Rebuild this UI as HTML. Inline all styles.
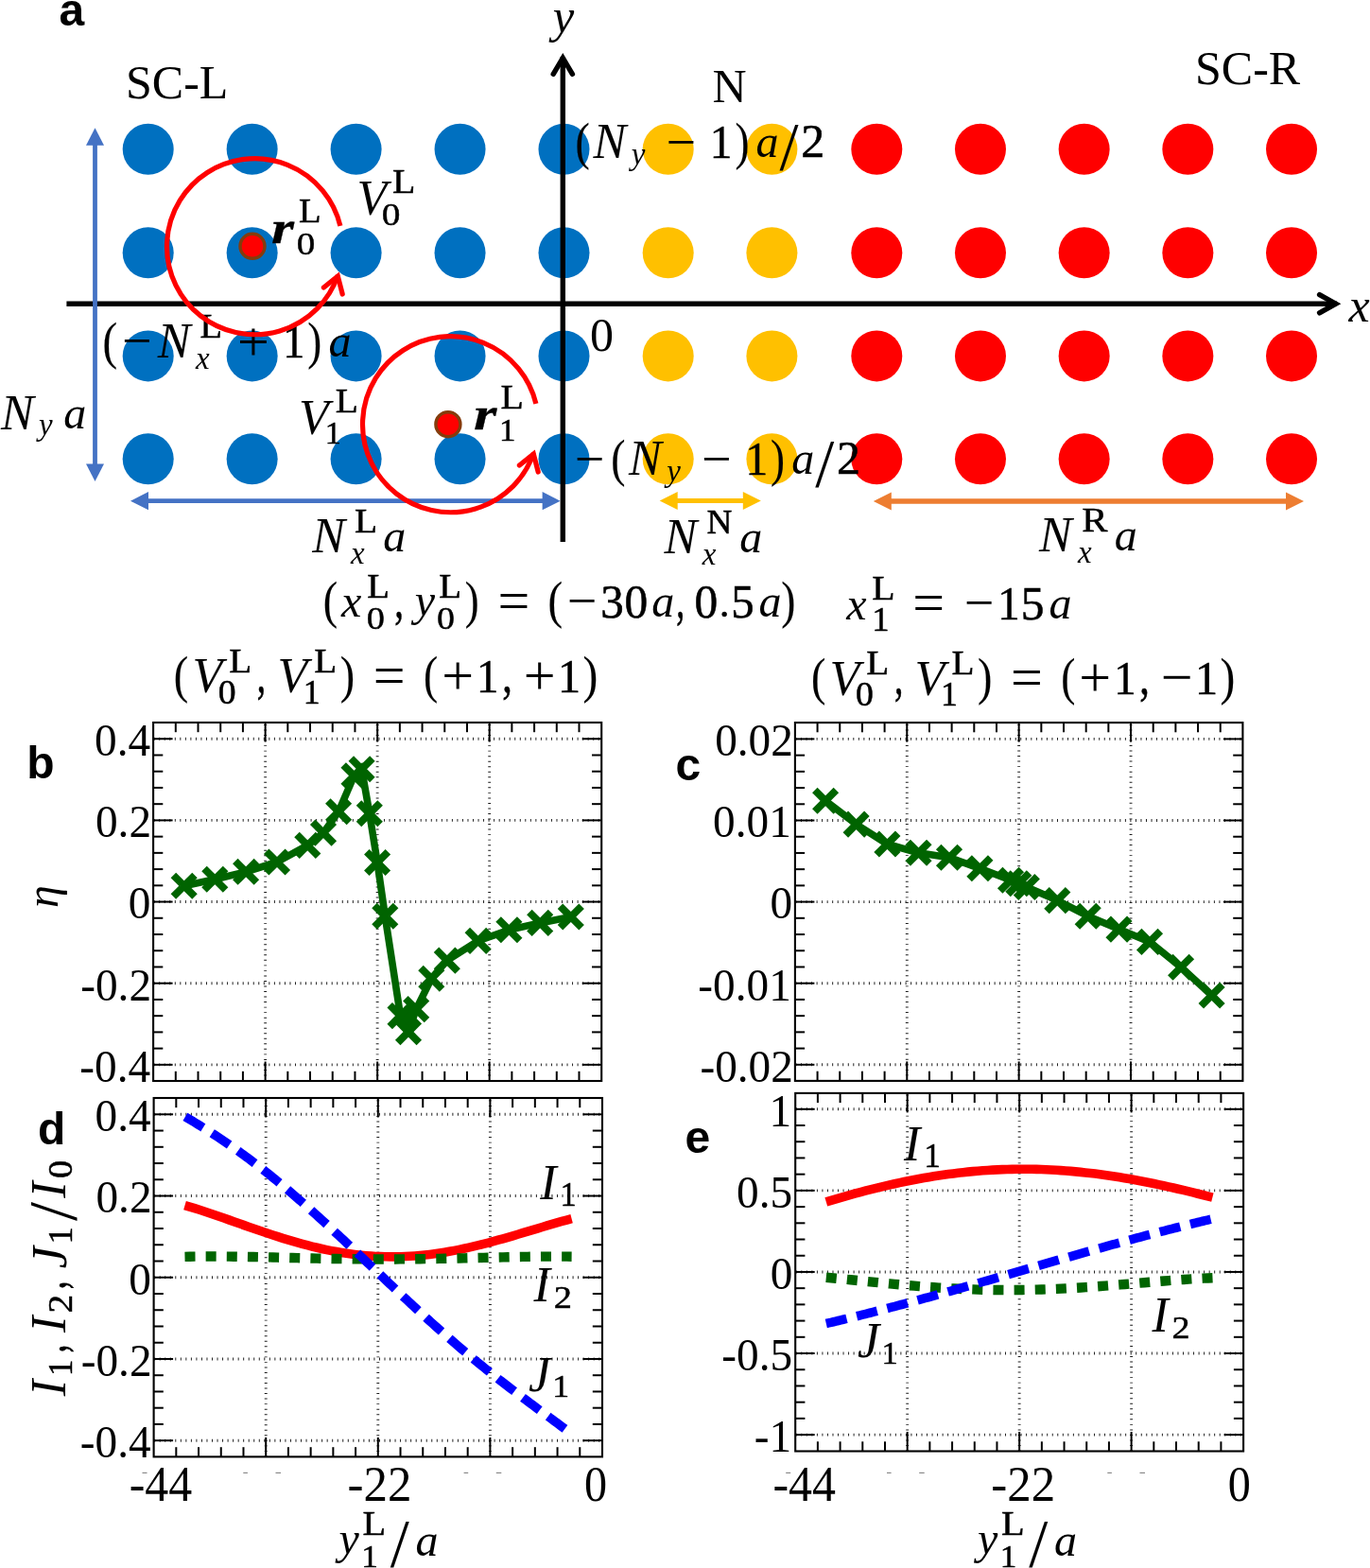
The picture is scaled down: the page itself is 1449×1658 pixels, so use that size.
<!DOCTYPE html>
<html><head><meta charset="utf-8"><title>figure</title>
<style>html,body{margin:0;padding:0;background:#fff;}svg{display:block;will-change:transform;}</style>
</head><body>
<svg width="1449" height="1658" viewBox="0 0 1449 1658" font-family="Liberation Serif, serif" fill="#000">
<rect width="1449" height="1658" fill="#fff"/>
<g id="circles">
<circle cx="156.70" cy="157.80" r="27.0" fill="#0070C0"/>
<circle cx="266.65" cy="157.80" r="27.0" fill="#0070C0"/>
<circle cx="376.60" cy="157.80" r="27.0" fill="#0070C0"/>
<circle cx="486.55" cy="157.80" r="27.0" fill="#0070C0"/>
<circle cx="596.50" cy="157.80" r="27.0" fill="#0070C0"/>
<circle cx="706.70" cy="157.80" r="27.0" fill="#FFC000"/>
<circle cx="816.40" cy="157.80" r="27.0" fill="#FFC000"/>
<circle cx="927.30" cy="157.80" r="27.0" fill="#FF0000"/>
<circle cx="1036.98" cy="157.80" r="27.0" fill="#FF0000"/>
<circle cx="1146.66" cy="157.80" r="27.0" fill="#FF0000"/>
<circle cx="1256.34" cy="157.80" r="27.0" fill="#FF0000"/>
<circle cx="1366.02" cy="157.80" r="27.0" fill="#FF0000"/>
<circle cx="156.70" cy="267.30" r="27.0" fill="#0070C0"/>
<circle cx="266.65" cy="267.30" r="27.0" fill="#0070C0"/>
<circle cx="376.60" cy="267.30" r="27.0" fill="#0070C0"/>
<circle cx="486.55" cy="267.30" r="27.0" fill="#0070C0"/>
<circle cx="596.50" cy="267.30" r="27.0" fill="#0070C0"/>
<circle cx="706.70" cy="267.30" r="27.0" fill="#FFC000"/>
<circle cx="816.40" cy="267.30" r="27.0" fill="#FFC000"/>
<circle cx="927.30" cy="267.30" r="27.0" fill="#FF0000"/>
<circle cx="1036.98" cy="267.30" r="27.0" fill="#FF0000"/>
<circle cx="1146.66" cy="267.30" r="27.0" fill="#FF0000"/>
<circle cx="1256.34" cy="267.30" r="27.0" fill="#FF0000"/>
<circle cx="1366.02" cy="267.30" r="27.0" fill="#FF0000"/>
<circle cx="156.70" cy="376.40" r="27.0" fill="#0070C0"/>
<circle cx="266.65" cy="376.40" r="27.0" fill="#0070C0"/>
<circle cx="376.60" cy="376.40" r="27.0" fill="#0070C0"/>
<circle cx="486.55" cy="376.40" r="27.0" fill="#0070C0"/>
<circle cx="596.50" cy="376.40" r="27.0" fill="#0070C0"/>
<circle cx="706.70" cy="376.40" r="27.0" fill="#FFC000"/>
<circle cx="816.40" cy="376.40" r="27.0" fill="#FFC000"/>
<circle cx="927.30" cy="376.40" r="27.0" fill="#FF0000"/>
<circle cx="1036.98" cy="376.40" r="27.0" fill="#FF0000"/>
<circle cx="1146.66" cy="376.40" r="27.0" fill="#FF0000"/>
<circle cx="1256.34" cy="376.40" r="27.0" fill="#FF0000"/>
<circle cx="1366.02" cy="376.40" r="27.0" fill="#FF0000"/>
<circle cx="156.70" cy="485.30" r="27.0" fill="#0070C0"/>
<circle cx="266.65" cy="485.30" r="27.0" fill="#0070C0"/>
<circle cx="376.60" cy="485.30" r="27.0" fill="#0070C0"/>
<circle cx="486.55" cy="485.30" r="27.0" fill="#0070C0"/>
<circle cx="596.50" cy="485.30" r="27.0" fill="#0070C0"/>
<circle cx="706.70" cy="485.30" r="27.0" fill="#FFC000"/>
<circle cx="816.40" cy="485.30" r="27.0" fill="#FFC000"/>
<circle cx="927.30" cy="485.30" r="27.0" fill="#FF0000"/>
<circle cx="1036.98" cy="485.30" r="27.0" fill="#FF0000"/>
<circle cx="1146.66" cy="485.30" r="27.0" fill="#FF0000"/>
<circle cx="1256.34" cy="485.30" r="27.0" fill="#FF0000"/>
<circle cx="1366.02" cy="485.30" r="27.0" fill="#FF0000"/>
</g>
<line x1="70.40" y1="321.20" x2="1414.00" y2="321.20" stroke="#000" stroke-width="5.4" stroke-linecap="butt" />
<polyline points="1395.6,311.6 1412.8,321.2 1395.6,330.8" fill="none" stroke="#000" stroke-width="5.4" stroke-linecap="round" stroke-linejoin="miter"/>
<line x1="595.30" y1="573.00" x2="595.30" y2="60.00" stroke="#000" stroke-width="5.4" stroke-linecap="butt" />
<polyline points="585.2,78.3 595.3,61.2 605.4,78.3" fill="none" stroke="#000" stroke-width="5.4" stroke-linecap="round" stroke-linejoin="miter"/>
<line x1="100.50" y1="152.80" x2="100.50" y2="491.50" stroke="#4472C4" stroke-width="4.8" stroke-linecap="butt" /><polygon points="100.50,135.20 91.00,153.80 110.00,153.80" fill="#4472C4"/><polygon points="100.50,509.10 91.00,490.50 110.00,490.50" fill="#4472C4"/>
<line x1="156.00" y1="529.70" x2="574.60" y2="529.70" stroke="#4472C4" stroke-width="4.8" stroke-linecap="butt" /><polygon points="138.00,529.70 157.00,520.10 157.00,539.30" fill="#4472C4"/><polygon points="592.60,529.70 573.60,520.10 573.60,539.30" fill="#4472C4"/>
<line x1="715.70" y1="529.50" x2="786.80" y2="529.50" stroke="#FFC000" stroke-width="5.2" stroke-linecap="butt" /><polygon points="697.70,529.50 716.70,519.90 716.70,539.10" fill="#FFC000"/><polygon points="804.80,529.50 785.80,519.90 785.80,539.10" fill="#FFC000"/>
<line x1="941.80" y1="530.00" x2="1361.00" y2="530.00" stroke="#ED7D31" stroke-width="5.3" stroke-linecap="butt" /><polygon points="923.80,530.00 942.80,520.40 942.80,539.60" fill="#ED7D31"/><polygon points="1379.00,530.00 1360.00,520.40 1360.00,539.60" fill="#ED7D31"/>
<g id="ta" fill="#000">
<text x="133.0" y="103.5" font-size="50">SC-L</text>
<text x="1264.0" y="89.3" font-size="50">SC-R</text>
<text x="753.5" y="108.0" font-size="50">N</text>
<text x="624.0" y="370.6" font-size="50">0</text>
<text transform="matrix(0.5058 0 0 0.4964 584.72 33.79)" font-family="Liberation Serif" font-style="italic" font-weight="normal" font-size="100" stroke="#000" stroke-width="0" vector-effect="non-scaling-stroke">y</text>
<text x="1426.5" y="339.6" font-size="50" font-style="italic">x</text>
<text x="62.6" y="26.6" font-size="48" font-family="Liberation Sans" font-weight="bold">a</text>
<text transform="matrix(0.4575 0 0 0.5520 608.56 167.77)" font-family="Liberation Serif" font-style="normal" font-weight="normal" font-size="100" stroke="#000" stroke-width="0.15" vector-effect="non-scaling-stroke">(</text><text x="627.5" y="166.9" font-family="Liberation Serif, serif" font-style="italic" font-size="52">N</text><text x="667.7" y="173.7" font-family="Liberation Serif, serif" font-style="italic" font-size="33">y</text><text x="720.2" y="169.1" text-anchor="middle" font-family="Liberation Serif, serif" font-size="56">−</text><text transform="matrix(0.4729 0 0 0.5097 750.82 166.93)" font-family="Liberation Serif" font-style="normal" font-weight="normal" font-size="100" stroke="#000" stroke-width="0.55" vector-effect="non-scaling-stroke">1</text><text transform="matrix(0.4497 0 0 0.5520 777.43 167.77)" font-family="Liberation Serif" font-style="normal" font-weight="normal" font-size="100" stroke="#000" stroke-width="0.15" vector-effect="non-scaling-stroke">)</text><text x="799.5" y="166.0" font-family="Liberation Serif, serif" font-style="italic" font-size="48">a</text><text x="834.5" y="178.8" text-anchor="middle" font-family="Liberation Serif, serif" font-size="72">/</text><text transform="matrix(0.5002 0 0 0.5007 847.28 166.43)" font-family="Liberation Serif" font-style="normal" font-weight="normal" font-size="100" stroke="#000" stroke-width="0.55" vector-effect="non-scaling-stroke">2</text>
<text x="623.65" y="503.6" text-anchor="middle" font-family="Liberation Serif, serif" font-size="56">−</text>
<text transform="matrix(0.4575 0 0 0.5520 646.21 502.77)" font-family="Liberation Serif" font-style="normal" font-weight="normal" font-size="100" stroke="#000" stroke-width="0.15" vector-effect="non-scaling-stroke">(</text><text x="665.1" y="501.9" font-family="Liberation Serif, serif" font-style="italic" font-size="52">N</text><text x="705.3" y="508.7" font-family="Liberation Serif, serif" font-style="italic" font-size="33">y</text><text x="757.85" y="504.1" text-anchor="middle" font-family="Liberation Serif, serif" font-size="56">−</text><text transform="matrix(0.4729 0 0 0.5097 788.47 501.92)" font-family="Liberation Serif" font-style="normal" font-weight="normal" font-size="100" stroke="#000" stroke-width="0.55" vector-effect="non-scaling-stroke">1</text><text transform="matrix(0.4497 0 0 0.5520 815.08 502.77)" font-family="Liberation Serif" font-style="normal" font-weight="normal" font-size="100" stroke="#000" stroke-width="0.15" vector-effect="non-scaling-stroke">)</text><text x="837.2" y="501.0" font-family="Liberation Serif, serif" font-style="italic" font-size="48">a</text><text x="872.15" y="513.8" text-anchor="middle" font-family="Liberation Serif, serif" font-size="72">/</text><text transform="matrix(0.5002 0 0 0.5007 884.93 501.42)" font-family="Liberation Serif" font-style="normal" font-weight="normal" font-size="100" stroke="#000" stroke-width="0.55" vector-effect="non-scaling-stroke">2</text>
<text transform="matrix(0.4692 0 0 0.5498 108.51 378.82)" font-family="Liberation Serif" font-style="normal" font-weight="normal" font-size="100" stroke="#000" stroke-width="0.15" vector-effect="non-scaling-stroke">(</text>
<text x="144.85" y="379.4" text-anchor="middle" font-family="Liberation Serif, serif" font-size="56">−</text>
<text x="166.8" y="377.9" font-family="Liberation Serif, serif" font-style="italic" font-size="52">N</text>
<text transform="matrix(0.3841 0 0 0.3665 211.39 356.75)" font-family="Liberation Serif" font-style="normal" font-weight="normal" font-size="100" stroke="#000" stroke-width="0.5" vector-effect="non-scaling-stroke">L</text>
<text x="207.1" y="390.0" font-family="Liberation Serif, serif" font-style="italic" font-size="33">x</text>
<text x="268.0" y="380.5" text-anchor="middle" font-family="Liberation Serif, serif" font-size="60">+</text>
<text transform="matrix(0.4616 0 0 0.5097 299.22 377.72)" font-family="Liberation Serif" font-style="normal" font-weight="normal" font-size="100" stroke="#000" stroke-width="0.55" vector-effect="non-scaling-stroke">1</text>
<text transform="matrix(0.4478 0 0 0.5498 325.33 378.82)" font-family="Liberation Serif" font-style="normal" font-weight="normal" font-size="100" stroke="#000" stroke-width="0.15" vector-effect="non-scaling-stroke">)</text>
<text x="347.6" y="377.3" font-family="Liberation Serif, serif" font-style="italic" font-size="48">a</text>
<text x="377.4" y="226.5" font-family="Liberation Serif, serif" font-style="italic" font-size="52">V</text>
<text transform="matrix(0.3985 0 0 0.3574 415.00 204.35)" font-family="Liberation Serif" font-style="normal" font-weight="normal" font-size="100" stroke="#000" stroke-width="0.5" vector-effect="non-scaling-stroke">L</text>
<text transform="matrix(0.3940 0 0 0.3408 403.65 238.02)" font-family="Liberation Serif" font-style="normal" font-weight="normal" font-size="100" stroke="#000" stroke-width="0.5" vector-effect="non-scaling-stroke">0</text>
<text transform="matrix(0.6171 0 0 0.4924 287.08 256.65)" font-family="Liberation Serif" font-style="italic" font-weight="bold" font-size="100" stroke="#000" stroke-width="0.3" vector-effect="non-scaling-stroke">r</text>
<text transform="matrix(0.3870 0 0 0.3513 316.04 235.45)" font-family="Liberation Serif" font-style="normal" font-weight="normal" font-size="100" stroke="#000" stroke-width="0.5" vector-effect="non-scaling-stroke">L</text>
<text transform="matrix(0.3917 0 0 0.3408 313.66 268.72)" font-family="Liberation Serif" font-style="normal" font-weight="normal" font-size="100" stroke="#000" stroke-width="0.5" vector-effect="non-scaling-stroke">0</text>
<text x="316.0" y="458.6" font-family="Liberation Serif, serif" font-style="italic" font-size="52">V</text>
<text transform="matrix(0.3947 0 0 0.3635 354.71 436.45)" font-family="Liberation Serif" font-style="normal" font-weight="normal" font-size="100" stroke="#000" stroke-width="0.5" vector-effect="non-scaling-stroke">L</text>
<text transform="matrix(0.3409 0 0 0.3378 343.65 469.45)" font-family="Liberation Serif" font-style="normal" font-weight="normal" font-size="100" stroke="#000" stroke-width="0.5" vector-effect="non-scaling-stroke">1</text>
<text transform="matrix(0.6277 0 0 0.4860 501.06 453.95)" font-family="Liberation Serif" font-style="italic" font-weight="bold" font-size="100" stroke="#000" stroke-width="0.3" vector-effect="non-scaling-stroke">r</text>
<text transform="matrix(0.3985 0 0 0.3528 529.50 432.45)" font-family="Liberation Serif" font-style="normal" font-weight="normal" font-size="100" stroke="#000" stroke-width="0.5" vector-effect="non-scaling-stroke">L</text>
<text transform="matrix(0.3494 0 0 0.3423 528.08 466.05)" font-family="Liberation Serif" font-style="normal" font-weight="normal" font-size="100" stroke="#000" stroke-width="0.5" vector-effect="non-scaling-stroke">1</text>
<text x="0.9" y="453.6" font-family="Liberation Serif, serif" font-style="italic" font-size="52">N</text>
<text x="41.0" y="460.3" font-family="Liberation Serif, serif" font-style="italic" font-size="33">y</text>
<text x="67.3" y="453.0" font-family="Liberation Serif, serif" font-style="italic" font-size="48">a</text>
<text x="330.2" y="583.7" font-family="Liberation Serif, serif" font-style="italic" font-size="52">N</text>
<text transform="matrix(0.3947 0 0 0.3589 374.91 562.55)" font-family="Liberation Serif" font-style="normal" font-weight="normal" font-size="100" stroke="#000" stroke-width="0.5" vector-effect="non-scaling-stroke">L</text>
<text x="370.9" y="596.2" font-family="Liberation Serif, serif" font-style="italic" font-size="33">x</text>
<text x="405.3" y="583.0" font-family="Liberation Serif, serif" font-style="italic" font-size="48">a</text>
<text x="702.5" y="584.8" font-family="Liberation Serif, serif" font-style="italic" font-size="52">N</text>
<text transform="matrix(0.3729 0 0 0.3681 747.48 563.65)" font-family="Liberation Serif" font-style="normal" font-weight="normal" font-size="100" stroke="#000" stroke-width="0.5" vector-effect="non-scaling-stroke">N</text>
<text x="742.8" y="596.6" font-family="Liberation Serif, serif" font-style="italic" font-size="33">x</text>
<text x="782.3" y="584.3" font-family="Liberation Serif, serif" font-style="italic" font-size="48">a</text>
<text x="1099.0" y="582.8" font-family="Liberation Serif, serif" font-style="italic" font-size="52">N</text>
<text transform="matrix(0.4083 0 0 0.3650 1144.37 562.35)" font-family="Liberation Serif" font-style="normal" font-weight="normal" font-size="100" stroke="#000" stroke-width="0.5" vector-effect="non-scaling-stroke">R</text>
<text x="1140.1" y="594.9" font-family="Liberation Serif, serif" font-style="italic" font-size="33">x</text>
<text x="1178.8" y="582.3" font-family="Liberation Serif, serif" font-style="italic" font-size="48">a</text>
<text transform="matrix(0.4614 0 0 0.5465 341.65 652.79)" font-family="Liberation Serif" font-style="normal" font-weight="normal" font-size="100" stroke="#000" stroke-width="0.15" vector-effect="non-scaling-stroke">(</text>
<text x="361.0" y="652.2" font-family="Liberation Serif, serif" font-style="italic" font-size="48">x</text>
<text transform="matrix(0.3880 0 0 0.3665 388.23 631.55)" font-family="Liberation Serif" font-style="normal" font-weight="normal" font-size="100" stroke="#000" stroke-width="0.5" vector-effect="non-scaling-stroke">L</text>
<text transform="matrix(0.3846 0 0 0.3453 387.69 664.71)" font-family="Liberation Serif" font-style="normal" font-weight="normal" font-size="100" stroke="#000" stroke-width="0.5" vector-effect="non-scaling-stroke">0</text>
<text transform="matrix(0.3895 0 0 0.5529 417.27 653.05)" font-family="Liberation Serif" font-style="normal" font-weight="normal" font-size="100" stroke="#000" stroke-width="0.5" vector-effect="non-scaling-stroke">,</text>
<text x="438.7" y="651.0" font-family="Liberation Serif, serif" font-style="italic" font-size="48">y</text>
<text transform="matrix(0.3889 0 0 0.3665 464.23 631.55)" font-family="Liberation Serif" font-style="normal" font-weight="normal" font-size="100" stroke="#000" stroke-width="0.5" vector-effect="non-scaling-stroke">L</text>
<text transform="matrix(0.3799 0 0 0.3453 462.10 664.71)" font-family="Liberation Serif" font-style="normal" font-weight="normal" font-size="100" stroke="#000" stroke-width="0.5" vector-effect="non-scaling-stroke">0</text>
<text transform="matrix(0.4458 0 0 0.5465 491.74 652.79)" font-family="Liberation Serif" font-style="normal" font-weight="normal" font-size="100" stroke="#000" stroke-width="0.15" vector-effect="non-scaling-stroke">)</text>
<text x="543.3" y="654.8" text-anchor="middle" font-family="Liberation Serif, serif" font-size="60">=</text>
<text transform="matrix(0.4692 0 0 0.5465 579.51 652.79)" font-family="Liberation Serif" font-style="normal" font-weight="normal" font-size="100" stroke="#000" stroke-width="0.15" vector-effect="non-scaling-stroke">(</text>
<text x="615.65" y="653.9" text-anchor="middle" font-family="Liberation Serif, serif" font-size="56">−</text>
<text transform="matrix(0.4902 0 0 0.5098 635.13 652.93)" font-family="Liberation Serif" font-style="normal" font-weight="normal" font-size="100" stroke="#000" stroke-width="0.55" vector-effect="non-scaling-stroke">3</text>
<text transform="matrix(0.4943 0 0 0.5076 660.49 652.93)" font-family="Liberation Serif" font-style="normal" font-weight="normal" font-size="100" stroke="#000" stroke-width="0.55" vector-effect="non-scaling-stroke">0</text>
<text x="689.3" y="652.0" font-family="Liberation Serif, serif" font-style="italic" font-size="48">a</text>
<text transform="matrix(0.3559 0 0 0.5607 715.19 653.03)" font-family="Liberation Serif" font-style="normal" font-weight="normal" font-size="100" stroke="#000" stroke-width="0.5" vector-effect="non-scaling-stroke">,</text>
<text transform="matrix(0.4943 0 0 0.5076 734.39 652.53)" font-family="Liberation Serif" font-style="normal" font-weight="normal" font-size="100" stroke="#000" stroke-width="0.55" vector-effect="non-scaling-stroke">0</text>
<text transform="matrix(0.4147 0 0 0.4147 761.02 651.66)" font-family="Liberation Serif" font-style="normal" font-weight="normal" font-size="100" stroke="#000" stroke-width="0.5" vector-effect="non-scaling-stroke">.</text>
<text transform="matrix(0.4878 0 0 0.5109 773.14 652.53)" font-family="Liberation Serif" font-style="normal" font-weight="normal" font-size="100" stroke="#000" stroke-width="0.55" vector-effect="non-scaling-stroke">5</text>
<text x="802.5" y="652.0" font-family="Liberation Serif, serif" font-style="italic" font-size="48">a</text>
<text transform="matrix(0.4536 0 0 0.5465 826.31 652.79)" font-family="Liberation Serif" font-style="normal" font-weight="normal" font-size="100" stroke="#000" stroke-width="0.15" vector-effect="non-scaling-stroke">)</text>
<text x="895.2" y="654.6" font-family="Liberation Serif, serif" font-style="italic" font-size="48">x</text>
<text transform="matrix(0.3985 0 0 0.3665 922.20 633.65)" font-family="Liberation Serif" font-style="normal" font-weight="normal" font-size="100" stroke="#000" stroke-width="0.5" vector-effect="non-scaling-stroke">L</text>
<text transform="matrix(0.3664 0 0 0.3499 922.13 667.15)" font-family="Liberation Serif" font-style="normal" font-weight="normal" font-size="100" stroke="#000" stroke-width="0.5" vector-effect="non-scaling-stroke">1</text>
<text x="982.25" y="657.1" text-anchor="middle" font-family="Liberation Serif, serif" font-size="60">=</text>
<text x="1035.5" y="656.3" text-anchor="middle" font-family="Liberation Serif, serif" font-size="56">−</text>
<text transform="matrix(0.4673 0 0 0.5067 1055.37 654.73)" font-family="Liberation Serif" font-style="normal" font-weight="normal" font-size="100" stroke="#000" stroke-width="0.55" vector-effect="non-scaling-stroke">1</text>
<text transform="matrix(0.4952 0 0 0.5124 1079.80 654.82)" font-family="Liberation Serif" font-style="normal" font-weight="normal" font-size="100" stroke="#000" stroke-width="0.55" vector-effect="non-scaling-stroke">5</text>
<text x="1109.4" y="654.2" font-family="Liberation Serif, serif" font-style="italic" font-size="48">a</text>
</g>
<text transform="matrix(0.4633 0 0 0.5465 183.84 731.99)" font-family="Liberation Serif" font-style="normal" font-weight="normal" font-size="100" stroke="#000" stroke-width="0.15" vector-effect="non-scaling-stroke">(</text><text x="203.4" y="732.4" font-family="Liberation Serif, serif" font-style="italic" font-size="52">V</text><text transform="matrix(0.3927 0 0 0.3665 242.22 710.55)" font-family="Liberation Serif" font-style="normal" font-weight="normal" font-size="100" stroke="#000" stroke-width="0.5" vector-effect="non-scaling-stroke">L</text><text transform="matrix(0.3775 0 0 0.3482 230.81 743.91)" font-family="Liberation Serif" font-style="normal" font-weight="normal" font-size="100" stroke="#000" stroke-width="0.5" vector-effect="non-scaling-stroke">0</text><text transform="matrix(0.3727 0 0 0.5451 271.78 732.17)" font-family="Liberation Serif" font-style="normal" font-weight="normal" font-size="100" stroke="#000" stroke-width="0.5" vector-effect="non-scaling-stroke">,</text><text x="293.5" y="732.4" font-family="Liberation Serif, serif" font-style="italic" font-size="52">V</text><text transform="matrix(0.3927 0 0 0.3665 332.32 710.55)" font-family="Liberation Serif" font-style="normal" font-weight="normal" font-size="100" stroke="#000" stroke-width="0.5" vector-effect="non-scaling-stroke">L</text><text transform="matrix(0.3579 0 0 0.3499 320.80 743.65)" font-family="Liberation Serif" font-style="normal" font-weight="normal" font-size="100" stroke="#000" stroke-width="0.5" vector-effect="non-scaling-stroke">1</text><text transform="matrix(0.4614 0 0 0.5465 359.79 731.99)" font-family="Liberation Serif" font-style="normal" font-weight="normal" font-size="100" stroke="#000" stroke-width="0.15" vector-effect="non-scaling-stroke">)</text><text x="411.7" y="734.3" text-anchor="middle" font-family="Liberation Serif, serif" font-size="60">=</text><text transform="matrix(0.4555 0 0 0.5465 448.07 731.99)" font-family="Liberation Serif" font-style="normal" font-weight="normal" font-size="100" stroke="#000" stroke-width="0.15" vector-effect="non-scaling-stroke">(</text><text x="484.05" y="734.1" text-anchor="middle" font-family="Liberation Serif, serif" font-size="60">+</text><text transform="matrix(0.4673 0 0 0.5128 504.07 731.82)" font-family="Liberation Serif" font-style="normal" font-weight="normal" font-size="100" stroke="#000" stroke-width="0.55" vector-effect="non-scaling-stroke">1</text><text transform="matrix(0.4230 0 0 0.5490 531.24 732.11)" font-family="Liberation Serif" font-style="normal" font-weight="normal" font-size="100" stroke="#000" stroke-width="0.5" vector-effect="non-scaling-stroke">,</text><text x="570.65" y="734.1" text-anchor="middle" font-family="Liberation Serif, serif" font-size="60">+</text><text transform="matrix(0.4815 0 0 0.5128 589.94 731.82)" font-family="Liberation Serif" font-style="normal" font-weight="normal" font-size="100" stroke="#000" stroke-width="0.55" vector-effect="non-scaling-stroke">1</text><text transform="matrix(0.4731 0 0 0.5487 616.45 731.94)" font-family="Liberation Serif" font-style="normal" font-weight="normal" font-size="100" stroke="#000" stroke-width="0.15" vector-effect="non-scaling-stroke">)</text>
<text transform="matrix(0.4633 0 0 0.5465 857.94 734.09)" font-family="Liberation Serif" font-style="normal" font-weight="normal" font-size="100" stroke="#000" stroke-width="0.15" vector-effect="non-scaling-stroke">(</text><text x="877.5" y="734.5" font-family="Liberation Serif, serif" font-style="italic" font-size="52">V</text><text transform="matrix(0.3927 0 0 0.3665 916.32 712.65)" font-family="Liberation Serif" font-style="normal" font-weight="normal" font-size="100" stroke="#000" stroke-width="0.5" vector-effect="non-scaling-stroke">L</text><text transform="matrix(0.3775 0 0 0.3482 904.91 746.01)" font-family="Liberation Serif" font-style="normal" font-weight="normal" font-size="100" stroke="#000" stroke-width="0.5" vector-effect="non-scaling-stroke">0</text><text transform="matrix(0.3727 0 0 0.5451 945.88 734.27)" font-family="Liberation Serif" font-style="normal" font-weight="normal" font-size="100" stroke="#000" stroke-width="0.5" vector-effect="non-scaling-stroke">,</text><text x="967.6" y="734.5" font-family="Liberation Serif, serif" font-style="italic" font-size="52">V</text><text transform="matrix(0.3927 0 0 0.3665 1006.42 712.65)" font-family="Liberation Serif" font-style="normal" font-weight="normal" font-size="100" stroke="#000" stroke-width="0.5" vector-effect="non-scaling-stroke">L</text><text transform="matrix(0.3579 0 0 0.3499 994.90 745.75)" font-family="Liberation Serif" font-style="normal" font-weight="normal" font-size="100" stroke="#000" stroke-width="0.5" vector-effect="non-scaling-stroke">1</text><text transform="matrix(0.4614 0 0 0.5465 1033.89 734.09)" font-family="Liberation Serif" font-style="normal" font-weight="normal" font-size="100" stroke="#000" stroke-width="0.15" vector-effect="non-scaling-stroke">)</text><text x="1085.8" y="736.4" text-anchor="middle" font-family="Liberation Serif, serif" font-size="60">=</text><text transform="matrix(0.4555 0 0 0.5465 1122.17 734.09)" font-family="Liberation Serif" font-style="normal" font-weight="normal" font-size="100" stroke="#000" stroke-width="0.15" vector-effect="non-scaling-stroke">(</text><text x="1158.15" y="736.2" text-anchor="middle" font-family="Liberation Serif, serif" font-size="60">+</text><text transform="matrix(0.4673 0 0 0.5128 1178.17 733.92)" font-family="Liberation Serif" font-style="normal" font-weight="normal" font-size="100" stroke="#000" stroke-width="0.55" vector-effect="non-scaling-stroke">1</text><text transform="matrix(0.4230 0 0 0.5490 1205.34 734.21)" font-family="Liberation Serif" font-style="normal" font-weight="normal" font-size="100" stroke="#000" stroke-width="0.5" vector-effect="non-scaling-stroke">,</text><text x="1244.75" y="736.2" text-anchor="middle" font-family="Liberation Serif, serif" font-size="60">−</text><text transform="matrix(0.4815 0 0 0.5128 1264.04 733.92)" font-family="Liberation Serif" font-style="normal" font-weight="normal" font-size="100" stroke="#000" stroke-width="0.55" vector-effect="non-scaling-stroke">1</text><text transform="matrix(0.4731 0 0 0.5487 1290.55 734.04)" font-family="Liberation Serif" font-style="normal" font-weight="normal" font-size="100" stroke="#000" stroke-width="0.15" vector-effect="non-scaling-stroke">)</text>
<path d="M359.89,238.83 A93.0,93.0 0 1 0 357.43,290.98" fill="none" stroke="#FF0000" stroke-width="5.2"/><polyline points="342.40,304.00 357.30,292.00 362.20,311.00" fill="none" stroke="#FF0000" stroke-width="5.2" stroke-linecap="round" stroke-linejoin="miter"/>
<path d="M566.89,426.83 A93.0,93.0 0 1 0 564.43,478.98" fill="none" stroke="#FF0000" stroke-width="5.2"/><polyline points="549.40,492.00 564.30,480.00 569.20,499.00" fill="none" stroke="#FF0000" stroke-width="5.2" stroke-linecap="round" stroke-linejoin="miter"/>
<circle cx="267.0" cy="260.3" r="13.0" fill="#FF0000" stroke="#843C0C" stroke-width="3.4"/>
<circle cx="473.9" cy="448.7" r="13.0" fill="#FF0000" stroke="#843C0C" stroke-width="3.4"/>
<g><line x1="280.62" y1="1143.00" x2="280.62" y2="764.00" stroke="#1a1a1a" stroke-width="2.9" stroke-dasharray="0.95 4.58"/><line x1="399.15" y1="1143.00" x2="399.15" y2="764.00" stroke="#1a1a1a" stroke-width="2.9" stroke-dasharray="0.95 4.58"/><line x1="517.68" y1="1143.00" x2="517.68" y2="764.00" stroke="#1a1a1a" stroke-width="2.9" stroke-dasharray="0.95 4.58"/><line x1="162.10" y1="1125.85" x2="636.20" y2="1125.85" stroke="#1a1a1a" stroke-width="2.9" stroke-dasharray="0.95 4.58" stroke-dashoffset="-0.6"/><line x1="162.10" y1="1039.70" x2="636.20" y2="1039.70" stroke="#1a1a1a" stroke-width="2.9" stroke-dasharray="0.95 4.58" stroke-dashoffset="-0.6"/><line x1="162.10" y1="953.55" x2="636.20" y2="953.55" stroke="#1a1a1a" stroke-width="2.9" stroke-dasharray="0.95 4.58" stroke-dashoffset="-0.6"/><line x1="162.10" y1="867.40" x2="636.20" y2="867.40" stroke="#1a1a1a" stroke-width="2.9" stroke-dasharray="0.95 4.58" stroke-dashoffset="-0.6"/><line x1="162.10" y1="781.25" x2="636.20" y2="781.25" stroke="#1a1a1a" stroke-width="2.9" stroke-dasharray="0.95 4.58" stroke-dashoffset="-0.6"/><line x1="280.62" y1="1143.00" x2="280.62" y2="1122.50" stroke="#000" stroke-width="2.0" stroke-linecap="butt" /><line x1="280.62" y1="764.00" x2="280.62" y2="784.50" stroke="#000" stroke-width="2.0" stroke-linecap="butt" /><line x1="399.15" y1="1143.00" x2="399.15" y2="1122.50" stroke="#000" stroke-width="2.0" stroke-linecap="butt" /><line x1="399.15" y1="764.00" x2="399.15" y2="784.50" stroke="#000" stroke-width="2.0" stroke-linecap="butt" /><line x1="517.68" y1="1143.00" x2="517.68" y2="1122.50" stroke="#000" stroke-width="2.0" stroke-linecap="butt" /><line x1="517.68" y1="764.00" x2="517.68" y2="784.50" stroke="#000" stroke-width="2.0" stroke-linecap="butt" /><line x1="185.81" y1="1143.00" x2="185.81" y2="1132.80" stroke="#000" stroke-width="2.0" stroke-linecap="butt" /><line x1="185.81" y1="764.00" x2="185.81" y2="774.20" stroke="#000" stroke-width="2.0" stroke-linecap="butt" /><line x1="209.51" y1="1143.00" x2="209.51" y2="1132.80" stroke="#000" stroke-width="2.0" stroke-linecap="butt" /><line x1="209.51" y1="764.00" x2="209.51" y2="774.20" stroke="#000" stroke-width="2.0" stroke-linecap="butt" /><line x1="233.22" y1="1143.00" x2="233.22" y2="1132.80" stroke="#000" stroke-width="2.0" stroke-linecap="butt" /><line x1="233.22" y1="764.00" x2="233.22" y2="774.20" stroke="#000" stroke-width="2.0" stroke-linecap="butt" /><line x1="256.92" y1="1143.00" x2="256.92" y2="1132.80" stroke="#000" stroke-width="2.0" stroke-linecap="butt" /><line x1="256.92" y1="764.00" x2="256.92" y2="774.20" stroke="#000" stroke-width="2.0" stroke-linecap="butt" /><line x1="304.33" y1="1143.00" x2="304.33" y2="1132.80" stroke="#000" stroke-width="2.0" stroke-linecap="butt" /><line x1="304.33" y1="764.00" x2="304.33" y2="774.20" stroke="#000" stroke-width="2.0" stroke-linecap="butt" /><line x1="328.03" y1="1143.00" x2="328.03" y2="1132.80" stroke="#000" stroke-width="2.0" stroke-linecap="butt" /><line x1="328.03" y1="764.00" x2="328.03" y2="774.20" stroke="#000" stroke-width="2.0" stroke-linecap="butt" /><line x1="351.74" y1="1143.00" x2="351.74" y2="1132.80" stroke="#000" stroke-width="2.0" stroke-linecap="butt" /><line x1="351.74" y1="764.00" x2="351.74" y2="774.20" stroke="#000" stroke-width="2.0" stroke-linecap="butt" /><line x1="375.45" y1="1143.00" x2="375.45" y2="1132.80" stroke="#000" stroke-width="2.0" stroke-linecap="butt" /><line x1="375.45" y1="764.00" x2="375.45" y2="774.20" stroke="#000" stroke-width="2.0" stroke-linecap="butt" /><line x1="422.86" y1="1143.00" x2="422.86" y2="1132.80" stroke="#000" stroke-width="2.0" stroke-linecap="butt" /><line x1="422.86" y1="764.00" x2="422.86" y2="774.20" stroke="#000" stroke-width="2.0" stroke-linecap="butt" /><line x1="446.56" y1="1143.00" x2="446.56" y2="1132.80" stroke="#000" stroke-width="2.0" stroke-linecap="butt" /><line x1="446.56" y1="764.00" x2="446.56" y2="774.20" stroke="#000" stroke-width="2.0" stroke-linecap="butt" /><line x1="470.26" y1="1143.00" x2="470.26" y2="1132.80" stroke="#000" stroke-width="2.0" stroke-linecap="butt" /><line x1="470.26" y1="764.00" x2="470.26" y2="774.20" stroke="#000" stroke-width="2.0" stroke-linecap="butt" /><line x1="493.97" y1="1143.00" x2="493.97" y2="1132.80" stroke="#000" stroke-width="2.0" stroke-linecap="butt" /><line x1="493.97" y1="764.00" x2="493.97" y2="774.20" stroke="#000" stroke-width="2.0" stroke-linecap="butt" /><line x1="541.38" y1="1143.00" x2="541.38" y2="1132.80" stroke="#000" stroke-width="2.0" stroke-linecap="butt" /><line x1="541.38" y1="764.00" x2="541.38" y2="774.20" stroke="#000" stroke-width="2.0" stroke-linecap="butt" /><line x1="565.09" y1="1143.00" x2="565.09" y2="1132.80" stroke="#000" stroke-width="2.0" stroke-linecap="butt" /><line x1="565.09" y1="764.00" x2="565.09" y2="774.20" stroke="#000" stroke-width="2.0" stroke-linecap="butt" /><line x1="588.79" y1="1143.00" x2="588.79" y2="1132.80" stroke="#000" stroke-width="2.0" stroke-linecap="butt" /><line x1="588.79" y1="764.00" x2="588.79" y2="774.20" stroke="#000" stroke-width="2.0" stroke-linecap="butt" /><line x1="612.50" y1="1143.00" x2="612.50" y2="1132.80" stroke="#000" stroke-width="2.0" stroke-linecap="butt" /><line x1="612.50" y1="764.00" x2="612.50" y2="774.20" stroke="#000" stroke-width="2.0" stroke-linecap="butt" /><line x1="162.10" y1="1125.85" x2="182.60" y2="1125.85" stroke="#000" stroke-width="2.0" stroke-linecap="butt" /><line x1="636.20" y1="1125.85" x2="615.70" y2="1125.85" stroke="#000" stroke-width="2.0" stroke-linecap="butt" /><line x1="162.10" y1="1039.70" x2="182.60" y2="1039.70" stroke="#000" stroke-width="2.0" stroke-linecap="butt" /><line x1="636.20" y1="1039.70" x2="615.70" y2="1039.70" stroke="#000" stroke-width="2.0" stroke-linecap="butt" /><line x1="162.10" y1="953.55" x2="182.60" y2="953.55" stroke="#000" stroke-width="2.0" stroke-linecap="butt" /><line x1="636.20" y1="953.55" x2="615.70" y2="953.55" stroke="#000" stroke-width="2.0" stroke-linecap="butt" /><line x1="162.10" y1="867.40" x2="182.60" y2="867.40" stroke="#000" stroke-width="2.0" stroke-linecap="butt" /><line x1="636.20" y1="867.40" x2="615.70" y2="867.40" stroke="#000" stroke-width="2.0" stroke-linecap="butt" /><line x1="162.10" y1="781.25" x2="182.60" y2="781.25" stroke="#000" stroke-width="2.0" stroke-linecap="butt" /><line x1="636.20" y1="781.25" x2="615.70" y2="781.25" stroke="#000" stroke-width="2.0" stroke-linecap="butt" /><line x1="162.10" y1="1108.62" x2="172.30" y2="1108.62" stroke="#000" stroke-width="2.0" stroke-linecap="butt" /><line x1="636.20" y1="1108.62" x2="626.00" y2="1108.62" stroke="#000" stroke-width="2.0" stroke-linecap="butt" /><line x1="162.10" y1="1091.39" x2="172.30" y2="1091.39" stroke="#000" stroke-width="2.0" stroke-linecap="butt" /><line x1="636.20" y1="1091.39" x2="626.00" y2="1091.39" stroke="#000" stroke-width="2.0" stroke-linecap="butt" /><line x1="162.10" y1="1074.16" x2="172.30" y2="1074.16" stroke="#000" stroke-width="2.0" stroke-linecap="butt" /><line x1="636.20" y1="1074.16" x2="626.00" y2="1074.16" stroke="#000" stroke-width="2.0" stroke-linecap="butt" /><line x1="162.10" y1="1056.93" x2="172.30" y2="1056.93" stroke="#000" stroke-width="2.0" stroke-linecap="butt" /><line x1="636.20" y1="1056.93" x2="626.00" y2="1056.93" stroke="#000" stroke-width="2.0" stroke-linecap="butt" /><line x1="162.10" y1="1022.47" x2="172.30" y2="1022.47" stroke="#000" stroke-width="2.0" stroke-linecap="butt" /><line x1="636.20" y1="1022.47" x2="626.00" y2="1022.47" stroke="#000" stroke-width="2.0" stroke-linecap="butt" /><line x1="162.10" y1="1005.24" x2="172.30" y2="1005.24" stroke="#000" stroke-width="2.0" stroke-linecap="butt" /><line x1="636.20" y1="1005.24" x2="626.00" y2="1005.24" stroke="#000" stroke-width="2.0" stroke-linecap="butt" /><line x1="162.10" y1="988.01" x2="172.30" y2="988.01" stroke="#000" stroke-width="2.0" stroke-linecap="butt" /><line x1="636.20" y1="988.01" x2="626.00" y2="988.01" stroke="#000" stroke-width="2.0" stroke-linecap="butt" /><line x1="162.10" y1="970.78" x2="172.30" y2="970.78" stroke="#000" stroke-width="2.0" stroke-linecap="butt" /><line x1="636.20" y1="970.78" x2="626.00" y2="970.78" stroke="#000" stroke-width="2.0" stroke-linecap="butt" /><line x1="162.10" y1="936.32" x2="172.30" y2="936.32" stroke="#000" stroke-width="2.0" stroke-linecap="butt" /><line x1="636.20" y1="936.32" x2="626.00" y2="936.32" stroke="#000" stroke-width="2.0" stroke-linecap="butt" /><line x1="162.10" y1="919.09" x2="172.30" y2="919.09" stroke="#000" stroke-width="2.0" stroke-linecap="butt" /><line x1="636.20" y1="919.09" x2="626.00" y2="919.09" stroke="#000" stroke-width="2.0" stroke-linecap="butt" /><line x1="162.10" y1="901.86" x2="172.30" y2="901.86" stroke="#000" stroke-width="2.0" stroke-linecap="butt" /><line x1="636.20" y1="901.86" x2="626.00" y2="901.86" stroke="#000" stroke-width="2.0" stroke-linecap="butt" /><line x1="162.10" y1="884.63" x2="172.30" y2="884.63" stroke="#000" stroke-width="2.0" stroke-linecap="butt" /><line x1="636.20" y1="884.63" x2="626.00" y2="884.63" stroke="#000" stroke-width="2.0" stroke-linecap="butt" /><line x1="162.10" y1="850.17" x2="172.30" y2="850.17" stroke="#000" stroke-width="2.0" stroke-linecap="butt" /><line x1="636.20" y1="850.17" x2="626.00" y2="850.17" stroke="#000" stroke-width="2.0" stroke-linecap="butt" /><line x1="162.10" y1="832.94" x2="172.30" y2="832.94" stroke="#000" stroke-width="2.0" stroke-linecap="butt" /><line x1="636.20" y1="832.94" x2="626.00" y2="832.94" stroke="#000" stroke-width="2.0" stroke-linecap="butt" /><line x1="162.10" y1="815.71" x2="172.30" y2="815.71" stroke="#000" stroke-width="2.0" stroke-linecap="butt" /><line x1="636.20" y1="815.71" x2="626.00" y2="815.71" stroke="#000" stroke-width="2.0" stroke-linecap="butt" /><line x1="162.10" y1="798.48" x2="172.30" y2="798.48" stroke="#000" stroke-width="2.0" stroke-linecap="butt" /><line x1="636.20" y1="798.48" x2="626.00" y2="798.48" stroke="#000" stroke-width="2.0" stroke-linecap="butt" /><rect x="162.10" y="764.00" width="474.10" height="379.00" fill="none" stroke="#000" stroke-width="2.1"/></g>
<polyline points="194.7,936.7 227.3,929.8 260.1,921.8 293.0,911.5 325.3,893.9 342.0,880.6 358.1,858.2 374.5,820.2 382.6,813.3 390.8,860.2 399.1,912.0 407.3,968.8 423.5,1074.1 432.0,1091.1 440.2,1067.1 456.3,1034.7 472.8,1015.6 505.6,994.9 538.4,983.3 571.2,975.9 603.8,969.5" fill="none" stroke="#006400" stroke-width="7.6" stroke-linejoin="bevel"/><g stroke="#006400" stroke-width="7.8"><line x1="183.40" y1="925.40" x2="206.00" y2="948.00"/><line x1="183.40" y1="948.00" x2="206.00" y2="925.40"/><line x1="216.00" y1="918.50" x2="238.60" y2="941.10"/><line x1="216.00" y1="941.10" x2="238.60" y2="918.50"/><line x1="248.80" y1="910.50" x2="271.40" y2="933.10"/><line x1="248.80" y1="933.10" x2="271.40" y2="910.50"/><line x1="281.70" y1="900.20" x2="304.30" y2="922.80"/><line x1="281.70" y1="922.80" x2="304.30" y2="900.20"/><line x1="314.00" y1="882.60" x2="336.60" y2="905.20"/><line x1="314.00" y1="905.20" x2="336.60" y2="882.60"/><line x1="330.70" y1="869.30" x2="353.30" y2="891.90"/><line x1="330.70" y1="891.90" x2="353.30" y2="869.30"/><line x1="346.80" y1="846.90" x2="369.40" y2="869.50"/><line x1="346.80" y1="869.50" x2="369.40" y2="846.90"/><line x1="363.20" y1="808.90" x2="385.80" y2="831.50"/><line x1="363.20" y1="831.50" x2="385.80" y2="808.90"/><line x1="371.30" y1="802.00" x2="393.90" y2="824.60"/><line x1="371.30" y1="824.60" x2="393.90" y2="802.00"/><line x1="379.50" y1="848.90" x2="402.10" y2="871.50"/><line x1="379.50" y1="871.50" x2="402.10" y2="848.90"/><line x1="387.80" y1="900.70" x2="410.40" y2="923.30"/><line x1="387.80" y1="923.30" x2="410.40" y2="900.70"/><line x1="396.00" y1="957.50" x2="418.60" y2="980.10"/><line x1="396.00" y1="980.10" x2="418.60" y2="957.50"/><line x1="412.20" y1="1062.80" x2="434.80" y2="1085.40"/><line x1="412.20" y1="1085.40" x2="434.80" y2="1062.80"/><line x1="420.70" y1="1079.80" x2="443.30" y2="1102.40"/><line x1="420.70" y1="1102.40" x2="443.30" y2="1079.80"/><line x1="428.90" y1="1055.80" x2="451.50" y2="1078.40"/><line x1="428.90" y1="1078.40" x2="451.50" y2="1055.80"/><line x1="445.00" y1="1023.40" x2="467.60" y2="1046.00"/><line x1="445.00" y1="1046.00" x2="467.60" y2="1023.40"/><line x1="461.50" y1="1004.30" x2="484.10" y2="1026.90"/><line x1="461.50" y1="1026.90" x2="484.10" y2="1004.30"/><line x1="494.30" y1="983.60" x2="516.90" y2="1006.20"/><line x1="494.30" y1="1006.20" x2="516.90" y2="983.60"/><line x1="527.10" y1="972.00" x2="549.70" y2="994.60"/><line x1="527.10" y1="994.60" x2="549.70" y2="972.00"/><line x1="559.90" y1="964.60" x2="582.50" y2="987.20"/><line x1="559.90" y1="987.20" x2="582.50" y2="964.60"/><line x1="592.50" y1="958.20" x2="615.10" y2="980.80"/><line x1="592.50" y1="980.80" x2="615.10" y2="958.20"/></g>
<text transform="matrix(0.4730 0 0 0.4894 100.01 799.05)" font-family="Liberation Serif" font-style="normal" font-weight="normal" font-size="100">0.4</text>
<text transform="matrix(0.4730 0 0 0.4894 100.98 885.20)" font-family="Liberation Serif" font-style="normal" font-weight="normal" font-size="100">0.2</text>
<text transform="matrix(0.4730 0 0 0.4894 135.75 971.35)" font-family="Liberation Serif" font-style="normal" font-weight="normal" font-size="100">0</text>
<text transform="matrix(0.4730 0 0 0.4894 85.23 1057.50)" font-family="Liberation Serif" font-style="normal" font-weight="normal" font-size="100">-0.2</text>
<text transform="matrix(0.4730 0 0 0.4894 84.26 1143.65)" font-family="Liberation Serif" font-style="normal" font-weight="normal" font-size="100">-0.4</text>
<g><line x1="959.27" y1="1142.90" x2="959.27" y2="764.10" stroke="#1a1a1a" stroke-width="2.9" stroke-dasharray="0.95 4.58"/><line x1="1077.65" y1="1142.90" x2="1077.65" y2="764.10" stroke="#1a1a1a" stroke-width="2.9" stroke-dasharray="0.95 4.58"/><line x1="1196.03" y1="1142.90" x2="1196.03" y2="764.10" stroke="#1a1a1a" stroke-width="2.9" stroke-dasharray="0.95 4.58"/><line x1="840.90" y1="1125.80" x2="1314.40" y2="1125.80" stroke="#1a1a1a" stroke-width="2.9" stroke-dasharray="0.95 4.58" stroke-dashoffset="-0.6"/><line x1="840.90" y1="1039.70" x2="1314.40" y2="1039.70" stroke="#1a1a1a" stroke-width="2.9" stroke-dasharray="0.95 4.58" stroke-dashoffset="-0.6"/><line x1="840.90" y1="953.60" x2="1314.40" y2="953.60" stroke="#1a1a1a" stroke-width="2.9" stroke-dasharray="0.95 4.58" stroke-dashoffset="-0.6"/><line x1="840.90" y1="867.50" x2="1314.40" y2="867.50" stroke="#1a1a1a" stroke-width="2.9" stroke-dasharray="0.95 4.58" stroke-dashoffset="-0.6"/><line x1="840.90" y1="781.40" x2="1314.40" y2="781.40" stroke="#1a1a1a" stroke-width="2.9" stroke-dasharray="0.95 4.58" stroke-dashoffset="-0.6"/><line x1="959.27" y1="1142.90" x2="959.27" y2="1122.40" stroke="#000" stroke-width="2.0" stroke-linecap="butt" /><line x1="959.27" y1="764.10" x2="959.27" y2="784.60" stroke="#000" stroke-width="2.0" stroke-linecap="butt" /><line x1="1077.65" y1="1142.90" x2="1077.65" y2="1122.40" stroke="#000" stroke-width="2.0" stroke-linecap="butt" /><line x1="1077.65" y1="764.10" x2="1077.65" y2="784.60" stroke="#000" stroke-width="2.0" stroke-linecap="butt" /><line x1="1196.03" y1="1142.90" x2="1196.03" y2="1122.40" stroke="#000" stroke-width="2.0" stroke-linecap="butt" /><line x1="1196.03" y1="764.10" x2="1196.03" y2="784.60" stroke="#000" stroke-width="2.0" stroke-linecap="butt" /><line x1="864.57" y1="1142.90" x2="864.57" y2="1132.70" stroke="#000" stroke-width="2.0" stroke-linecap="butt" /><line x1="864.57" y1="764.10" x2="864.57" y2="774.30" stroke="#000" stroke-width="2.0" stroke-linecap="butt" /><line x1="888.25" y1="1142.90" x2="888.25" y2="1132.70" stroke="#000" stroke-width="2.0" stroke-linecap="butt" /><line x1="888.25" y1="764.10" x2="888.25" y2="774.30" stroke="#000" stroke-width="2.0" stroke-linecap="butt" /><line x1="911.92" y1="1142.90" x2="911.92" y2="1132.70" stroke="#000" stroke-width="2.0" stroke-linecap="butt" /><line x1="911.92" y1="764.10" x2="911.92" y2="774.30" stroke="#000" stroke-width="2.0" stroke-linecap="butt" /><line x1="935.60" y1="1142.90" x2="935.60" y2="1132.70" stroke="#000" stroke-width="2.0" stroke-linecap="butt" /><line x1="935.60" y1="764.10" x2="935.60" y2="774.30" stroke="#000" stroke-width="2.0" stroke-linecap="butt" /><line x1="982.95" y1="1142.90" x2="982.95" y2="1132.70" stroke="#000" stroke-width="2.0" stroke-linecap="butt" /><line x1="982.95" y1="764.10" x2="982.95" y2="774.30" stroke="#000" stroke-width="2.0" stroke-linecap="butt" /><line x1="1006.62" y1="1142.90" x2="1006.62" y2="1132.70" stroke="#000" stroke-width="2.0" stroke-linecap="butt" /><line x1="1006.62" y1="764.10" x2="1006.62" y2="774.30" stroke="#000" stroke-width="2.0" stroke-linecap="butt" /><line x1="1030.30" y1="1142.90" x2="1030.30" y2="1132.70" stroke="#000" stroke-width="2.0" stroke-linecap="butt" /><line x1="1030.30" y1="764.10" x2="1030.30" y2="774.30" stroke="#000" stroke-width="2.0" stroke-linecap="butt" /><line x1="1053.97" y1="1142.90" x2="1053.97" y2="1132.70" stroke="#000" stroke-width="2.0" stroke-linecap="butt" /><line x1="1053.97" y1="764.10" x2="1053.97" y2="774.30" stroke="#000" stroke-width="2.0" stroke-linecap="butt" /><line x1="1101.33" y1="1142.90" x2="1101.33" y2="1132.70" stroke="#000" stroke-width="2.0" stroke-linecap="butt" /><line x1="1101.33" y1="764.10" x2="1101.33" y2="774.30" stroke="#000" stroke-width="2.0" stroke-linecap="butt" /><line x1="1125.00" y1="1142.90" x2="1125.00" y2="1132.70" stroke="#000" stroke-width="2.0" stroke-linecap="butt" /><line x1="1125.00" y1="764.10" x2="1125.00" y2="774.30" stroke="#000" stroke-width="2.0" stroke-linecap="butt" /><line x1="1148.68" y1="1142.90" x2="1148.68" y2="1132.70" stroke="#000" stroke-width="2.0" stroke-linecap="butt" /><line x1="1148.68" y1="764.10" x2="1148.68" y2="774.30" stroke="#000" stroke-width="2.0" stroke-linecap="butt" /><line x1="1172.35" y1="1142.90" x2="1172.35" y2="1132.70" stroke="#000" stroke-width="2.0" stroke-linecap="butt" /><line x1="1172.35" y1="764.10" x2="1172.35" y2="774.30" stroke="#000" stroke-width="2.0" stroke-linecap="butt" /><line x1="1219.70" y1="1142.90" x2="1219.70" y2="1132.70" stroke="#000" stroke-width="2.0" stroke-linecap="butt" /><line x1="1219.70" y1="764.10" x2="1219.70" y2="774.30" stroke="#000" stroke-width="2.0" stroke-linecap="butt" /><line x1="1243.38" y1="1142.90" x2="1243.38" y2="1132.70" stroke="#000" stroke-width="2.0" stroke-linecap="butt" /><line x1="1243.38" y1="764.10" x2="1243.38" y2="774.30" stroke="#000" stroke-width="2.0" stroke-linecap="butt" /><line x1="1267.05" y1="1142.90" x2="1267.05" y2="1132.70" stroke="#000" stroke-width="2.0" stroke-linecap="butt" /><line x1="1267.05" y1="764.10" x2="1267.05" y2="774.30" stroke="#000" stroke-width="2.0" stroke-linecap="butt" /><line x1="1290.73" y1="1142.90" x2="1290.73" y2="1132.70" stroke="#000" stroke-width="2.0" stroke-linecap="butt" /><line x1="1290.73" y1="764.10" x2="1290.73" y2="774.30" stroke="#000" stroke-width="2.0" stroke-linecap="butt" /><line x1="840.90" y1="1125.80" x2="861.40" y2="1125.80" stroke="#000" stroke-width="2.0" stroke-linecap="butt" /><line x1="1314.40" y1="1125.80" x2="1293.90" y2="1125.80" stroke="#000" stroke-width="2.0" stroke-linecap="butt" /><line x1="840.90" y1="1039.70" x2="861.40" y2="1039.70" stroke="#000" stroke-width="2.0" stroke-linecap="butt" /><line x1="1314.40" y1="1039.70" x2="1293.90" y2="1039.70" stroke="#000" stroke-width="2.0" stroke-linecap="butt" /><line x1="840.90" y1="953.60" x2="861.40" y2="953.60" stroke="#000" stroke-width="2.0" stroke-linecap="butt" /><line x1="1314.40" y1="953.60" x2="1293.90" y2="953.60" stroke="#000" stroke-width="2.0" stroke-linecap="butt" /><line x1="840.90" y1="867.50" x2="861.40" y2="867.50" stroke="#000" stroke-width="2.0" stroke-linecap="butt" /><line x1="1314.40" y1="867.50" x2="1293.90" y2="867.50" stroke="#000" stroke-width="2.0" stroke-linecap="butt" /><line x1="840.90" y1="781.40" x2="861.40" y2="781.40" stroke="#000" stroke-width="2.0" stroke-linecap="butt" /><line x1="1314.40" y1="781.40" x2="1293.90" y2="781.40" stroke="#000" stroke-width="2.0" stroke-linecap="butt" /><line x1="840.90" y1="1108.58" x2="851.10" y2="1108.58" stroke="#000" stroke-width="2.0" stroke-linecap="butt" /><line x1="1314.40" y1="1108.58" x2="1304.20" y2="1108.58" stroke="#000" stroke-width="2.0" stroke-linecap="butt" /><line x1="840.90" y1="1091.36" x2="851.10" y2="1091.36" stroke="#000" stroke-width="2.0" stroke-linecap="butt" /><line x1="1314.40" y1="1091.36" x2="1304.20" y2="1091.36" stroke="#000" stroke-width="2.0" stroke-linecap="butt" /><line x1="840.90" y1="1074.14" x2="851.10" y2="1074.14" stroke="#000" stroke-width="2.0" stroke-linecap="butt" /><line x1="1314.40" y1="1074.14" x2="1304.20" y2="1074.14" stroke="#000" stroke-width="2.0" stroke-linecap="butt" /><line x1="840.90" y1="1056.92" x2="851.10" y2="1056.92" stroke="#000" stroke-width="2.0" stroke-linecap="butt" /><line x1="1314.40" y1="1056.92" x2="1304.20" y2="1056.92" stroke="#000" stroke-width="2.0" stroke-linecap="butt" /><line x1="840.90" y1="1022.48" x2="851.10" y2="1022.48" stroke="#000" stroke-width="2.0" stroke-linecap="butt" /><line x1="1314.40" y1="1022.48" x2="1304.20" y2="1022.48" stroke="#000" stroke-width="2.0" stroke-linecap="butt" /><line x1="840.90" y1="1005.26" x2="851.10" y2="1005.26" stroke="#000" stroke-width="2.0" stroke-linecap="butt" /><line x1="1314.40" y1="1005.26" x2="1304.20" y2="1005.26" stroke="#000" stroke-width="2.0" stroke-linecap="butt" /><line x1="840.90" y1="988.04" x2="851.10" y2="988.04" stroke="#000" stroke-width="2.0" stroke-linecap="butt" /><line x1="1314.40" y1="988.04" x2="1304.20" y2="988.04" stroke="#000" stroke-width="2.0" stroke-linecap="butt" /><line x1="840.90" y1="970.82" x2="851.10" y2="970.82" stroke="#000" stroke-width="2.0" stroke-linecap="butt" /><line x1="1314.40" y1="970.82" x2="1304.20" y2="970.82" stroke="#000" stroke-width="2.0" stroke-linecap="butt" /><line x1="840.90" y1="936.38" x2="851.10" y2="936.38" stroke="#000" stroke-width="2.0" stroke-linecap="butt" /><line x1="1314.40" y1="936.38" x2="1304.20" y2="936.38" stroke="#000" stroke-width="2.0" stroke-linecap="butt" /><line x1="840.90" y1="919.16" x2="851.10" y2="919.16" stroke="#000" stroke-width="2.0" stroke-linecap="butt" /><line x1="1314.40" y1="919.16" x2="1304.20" y2="919.16" stroke="#000" stroke-width="2.0" stroke-linecap="butt" /><line x1="840.90" y1="901.94" x2="851.10" y2="901.94" stroke="#000" stroke-width="2.0" stroke-linecap="butt" /><line x1="1314.40" y1="901.94" x2="1304.20" y2="901.94" stroke="#000" stroke-width="2.0" stroke-linecap="butt" /><line x1="840.90" y1="884.72" x2="851.10" y2="884.72" stroke="#000" stroke-width="2.0" stroke-linecap="butt" /><line x1="1314.40" y1="884.72" x2="1304.20" y2="884.72" stroke="#000" stroke-width="2.0" stroke-linecap="butt" /><line x1="840.90" y1="850.28" x2="851.10" y2="850.28" stroke="#000" stroke-width="2.0" stroke-linecap="butt" /><line x1="1314.40" y1="850.28" x2="1304.20" y2="850.28" stroke="#000" stroke-width="2.0" stroke-linecap="butt" /><line x1="840.90" y1="833.06" x2="851.10" y2="833.06" stroke="#000" stroke-width="2.0" stroke-linecap="butt" /><line x1="1314.40" y1="833.06" x2="1304.20" y2="833.06" stroke="#000" stroke-width="2.0" stroke-linecap="butt" /><line x1="840.90" y1="815.84" x2="851.10" y2="815.84" stroke="#000" stroke-width="2.0" stroke-linecap="butt" /><line x1="1314.40" y1="815.84" x2="1304.20" y2="815.84" stroke="#000" stroke-width="2.0" stroke-linecap="butt" /><line x1="840.90" y1="798.62" x2="851.10" y2="798.62" stroke="#000" stroke-width="2.0" stroke-linecap="butt" /><line x1="1314.40" y1="798.62" x2="1304.20" y2="798.62" stroke="#000" stroke-width="2.0" stroke-linecap="butt" /><rect x="840.90" y="764.10" width="473.50" height="378.80" fill="none" stroke="#000" stroke-width="2.1"/></g>
<polyline points="873.1,846.8 905.6,871.6 938.4,892.5 971.5,901.8 1004.0,906.7 1036.4,918.3 1069.0,930.7 1077.3,934.2 1085.8,938.0 1118.3,952.1 1150.7,968.7 1183.5,982.6 1216.0,995.9 1249.1,1022.7 1281.6,1052.5" fill="none" stroke="#006400" stroke-width="7.6" stroke-linejoin="bevel"/><g stroke="#006400" stroke-width="7.8"><line x1="861.80" y1="835.50" x2="884.40" y2="858.10"/><line x1="861.80" y1="858.10" x2="884.40" y2="835.50"/><line x1="894.30" y1="860.30" x2="916.90" y2="882.90"/><line x1="894.30" y1="882.90" x2="916.90" y2="860.30"/><line x1="927.10" y1="881.20" x2="949.70" y2="903.80"/><line x1="927.10" y1="903.80" x2="949.70" y2="881.20"/><line x1="960.20" y1="890.50" x2="982.80" y2="913.10"/><line x1="960.20" y1="913.10" x2="982.80" y2="890.50"/><line x1="992.70" y1="895.40" x2="1015.30" y2="918.00"/><line x1="992.70" y1="918.00" x2="1015.30" y2="895.40"/><line x1="1025.10" y1="907.00" x2="1047.70" y2="929.60"/><line x1="1025.10" y1="929.60" x2="1047.70" y2="907.00"/><line x1="1057.70" y1="919.40" x2="1080.30" y2="942.00"/><line x1="1057.70" y1="942.00" x2="1080.30" y2="919.40"/><line x1="1066.00" y1="922.90" x2="1088.60" y2="945.50"/><line x1="1066.00" y1="945.50" x2="1088.60" y2="922.90"/><line x1="1074.50" y1="926.70" x2="1097.10" y2="949.30"/><line x1="1074.50" y1="949.30" x2="1097.10" y2="926.70"/><line x1="1107.00" y1="940.80" x2="1129.60" y2="963.40"/><line x1="1107.00" y1="963.40" x2="1129.60" y2="940.80"/><line x1="1139.40" y1="957.40" x2="1162.00" y2="980.00"/><line x1="1139.40" y1="980.00" x2="1162.00" y2="957.40"/><line x1="1172.20" y1="971.30" x2="1194.80" y2="993.90"/><line x1="1172.20" y1="993.90" x2="1194.80" y2="971.30"/><line x1="1204.70" y1="984.60" x2="1227.30" y2="1007.20"/><line x1="1204.70" y1="1007.20" x2="1227.30" y2="984.60"/><line x1="1237.80" y1="1011.40" x2="1260.40" y2="1034.00"/><line x1="1237.80" y1="1034.00" x2="1260.40" y2="1011.40"/><line x1="1270.30" y1="1041.20" x2="1292.90" y2="1063.80"/><line x1="1270.30" y1="1063.80" x2="1292.90" y2="1041.20"/></g>
<text transform="matrix(0.4730 0 0 0.4894 756.13 799.20)" font-family="Liberation Serif" font-style="normal" font-weight="normal" font-size="100">0.02</text>
<text transform="matrix(0.4730 0 0 0.4894 754.07 885.30)" font-family="Liberation Serif" font-style="normal" font-weight="normal" font-size="100">0.01</text>
<text transform="matrix(0.4730 0 0 0.4894 814.55 971.40)" font-family="Liberation Serif" font-style="normal" font-weight="normal" font-size="100">0</text>
<text transform="matrix(0.4730 0 0 0.4894 738.31 1057.50)" font-family="Liberation Serif" font-style="normal" font-weight="normal" font-size="100">-0.01</text>
<text transform="matrix(0.4730 0 0 0.4894 740.38 1143.60)" font-family="Liberation Serif" font-style="normal" font-weight="normal" font-size="100">-0.02</text>
<g><line x1="281.20" y1="1540.40" x2="281.20" y2="1161.00" stroke="#1a1a1a" stroke-width="2.9" stroke-dasharray="0.95 4.58"/><line x1="399.80" y1="1540.40" x2="399.80" y2="1161.00" stroke="#1a1a1a" stroke-width="2.9" stroke-dasharray="0.95 4.58"/><line x1="518.40" y1="1540.40" x2="518.40" y2="1161.00" stroke="#1a1a1a" stroke-width="2.9" stroke-dasharray="0.95 4.58"/><line x1="162.60" y1="1523.19" x2="637.00" y2="1523.19" stroke="#1a1a1a" stroke-width="2.9" stroke-dasharray="0.95 4.58" stroke-dashoffset="-0.6"/><line x1="162.60" y1="1436.97" x2="637.00" y2="1436.97" stroke="#1a1a1a" stroke-width="2.9" stroke-dasharray="0.95 4.58" stroke-dashoffset="-0.6"/><line x1="162.60" y1="1350.75" x2="637.00" y2="1350.75" stroke="#1a1a1a" stroke-width="2.9" stroke-dasharray="0.95 4.58" stroke-dashoffset="-0.6"/><line x1="162.60" y1="1264.53" x2="637.00" y2="1264.53" stroke="#1a1a1a" stroke-width="2.9" stroke-dasharray="0.95 4.58" stroke-dashoffset="-0.6"/><line x1="162.60" y1="1178.31" x2="637.00" y2="1178.31" stroke="#1a1a1a" stroke-width="2.9" stroke-dasharray="0.95 4.58" stroke-dashoffset="-0.6"/><line x1="281.20" y1="1540.40" x2="281.20" y2="1519.90" stroke="#000" stroke-width="2.0" stroke-linecap="butt" /><line x1="281.20" y1="1161.00" x2="281.20" y2="1181.50" stroke="#000" stroke-width="2.0" stroke-linecap="butt" /><line x1="399.80" y1="1540.40" x2="399.80" y2="1519.90" stroke="#000" stroke-width="2.0" stroke-linecap="butt" /><line x1="399.80" y1="1161.00" x2="399.80" y2="1181.50" stroke="#000" stroke-width="2.0" stroke-linecap="butt" /><line x1="518.40" y1="1540.40" x2="518.40" y2="1519.90" stroke="#000" stroke-width="2.0" stroke-linecap="butt" /><line x1="518.40" y1="1161.00" x2="518.40" y2="1181.50" stroke="#000" stroke-width="2.0" stroke-linecap="butt" /><line x1="186.32" y1="1540.40" x2="186.32" y2="1530.20" stroke="#000" stroke-width="2.0" stroke-linecap="butt" /><line x1="186.32" y1="1161.00" x2="186.32" y2="1171.20" stroke="#000" stroke-width="2.0" stroke-linecap="butt" /><line x1="210.04" y1="1540.40" x2="210.04" y2="1530.20" stroke="#000" stroke-width="2.0" stroke-linecap="butt" /><line x1="210.04" y1="1161.00" x2="210.04" y2="1171.20" stroke="#000" stroke-width="2.0" stroke-linecap="butt" /><line x1="233.76" y1="1540.40" x2="233.76" y2="1530.20" stroke="#000" stroke-width="2.0" stroke-linecap="butt" /><line x1="233.76" y1="1161.00" x2="233.76" y2="1171.20" stroke="#000" stroke-width="2.0" stroke-linecap="butt" /><line x1="257.48" y1="1540.40" x2="257.48" y2="1530.20" stroke="#000" stroke-width="2.0" stroke-linecap="butt" /><line x1="257.48" y1="1161.00" x2="257.48" y2="1171.20" stroke="#000" stroke-width="2.0" stroke-linecap="butt" /><line x1="304.92" y1="1540.40" x2="304.92" y2="1530.20" stroke="#000" stroke-width="2.0" stroke-linecap="butt" /><line x1="304.92" y1="1161.00" x2="304.92" y2="1171.20" stroke="#000" stroke-width="2.0" stroke-linecap="butt" /><line x1="328.64" y1="1540.40" x2="328.64" y2="1530.20" stroke="#000" stroke-width="2.0" stroke-linecap="butt" /><line x1="328.64" y1="1161.00" x2="328.64" y2="1171.20" stroke="#000" stroke-width="2.0" stroke-linecap="butt" /><line x1="352.36" y1="1540.40" x2="352.36" y2="1530.20" stroke="#000" stroke-width="2.0" stroke-linecap="butt" /><line x1="352.36" y1="1161.00" x2="352.36" y2="1171.20" stroke="#000" stroke-width="2.0" stroke-linecap="butt" /><line x1="376.08" y1="1540.40" x2="376.08" y2="1530.20" stroke="#000" stroke-width="2.0" stroke-linecap="butt" /><line x1="376.08" y1="1161.00" x2="376.08" y2="1171.20" stroke="#000" stroke-width="2.0" stroke-linecap="butt" /><line x1="423.52" y1="1540.40" x2="423.52" y2="1530.20" stroke="#000" stroke-width="2.0" stroke-linecap="butt" /><line x1="423.52" y1="1161.00" x2="423.52" y2="1171.20" stroke="#000" stroke-width="2.0" stroke-linecap="butt" /><line x1="447.24" y1="1540.40" x2="447.24" y2="1530.20" stroke="#000" stroke-width="2.0" stroke-linecap="butt" /><line x1="447.24" y1="1161.00" x2="447.24" y2="1171.20" stroke="#000" stroke-width="2.0" stroke-linecap="butt" /><line x1="470.96" y1="1540.40" x2="470.96" y2="1530.20" stroke="#000" stroke-width="2.0" stroke-linecap="butt" /><line x1="470.96" y1="1161.00" x2="470.96" y2="1171.20" stroke="#000" stroke-width="2.0" stroke-linecap="butt" /><line x1="494.68" y1="1540.40" x2="494.68" y2="1530.20" stroke="#000" stroke-width="2.0" stroke-linecap="butt" /><line x1="494.68" y1="1161.00" x2="494.68" y2="1171.20" stroke="#000" stroke-width="2.0" stroke-linecap="butt" /><line x1="542.12" y1="1540.40" x2="542.12" y2="1530.20" stroke="#000" stroke-width="2.0" stroke-linecap="butt" /><line x1="542.12" y1="1161.00" x2="542.12" y2="1171.20" stroke="#000" stroke-width="2.0" stroke-linecap="butt" /><line x1="565.84" y1="1540.40" x2="565.84" y2="1530.20" stroke="#000" stroke-width="2.0" stroke-linecap="butt" /><line x1="565.84" y1="1161.00" x2="565.84" y2="1171.20" stroke="#000" stroke-width="2.0" stroke-linecap="butt" /><line x1="589.56" y1="1540.40" x2="589.56" y2="1530.20" stroke="#000" stroke-width="2.0" stroke-linecap="butt" /><line x1="589.56" y1="1161.00" x2="589.56" y2="1171.20" stroke="#000" stroke-width="2.0" stroke-linecap="butt" /><line x1="613.28" y1="1540.40" x2="613.28" y2="1530.20" stroke="#000" stroke-width="2.0" stroke-linecap="butt" /><line x1="613.28" y1="1161.00" x2="613.28" y2="1171.20" stroke="#000" stroke-width="2.0" stroke-linecap="butt" /><line x1="162.60" y1="1523.19" x2="183.10" y2="1523.19" stroke="#000" stroke-width="2.0" stroke-linecap="butt" /><line x1="637.00" y1="1523.19" x2="616.50" y2="1523.19" stroke="#000" stroke-width="2.0" stroke-linecap="butt" /><line x1="162.60" y1="1436.97" x2="183.10" y2="1436.97" stroke="#000" stroke-width="2.0" stroke-linecap="butt" /><line x1="637.00" y1="1436.97" x2="616.50" y2="1436.97" stroke="#000" stroke-width="2.0" stroke-linecap="butt" /><line x1="162.60" y1="1350.75" x2="183.10" y2="1350.75" stroke="#000" stroke-width="2.0" stroke-linecap="butt" /><line x1="637.00" y1="1350.75" x2="616.50" y2="1350.75" stroke="#000" stroke-width="2.0" stroke-linecap="butt" /><line x1="162.60" y1="1264.53" x2="183.10" y2="1264.53" stroke="#000" stroke-width="2.0" stroke-linecap="butt" /><line x1="637.00" y1="1264.53" x2="616.50" y2="1264.53" stroke="#000" stroke-width="2.0" stroke-linecap="butt" /><line x1="162.60" y1="1178.31" x2="183.10" y2="1178.31" stroke="#000" stroke-width="2.0" stroke-linecap="butt" /><line x1="637.00" y1="1178.31" x2="616.50" y2="1178.31" stroke="#000" stroke-width="2.0" stroke-linecap="butt" /><line x1="162.60" y1="1505.95" x2="172.80" y2="1505.95" stroke="#000" stroke-width="2.0" stroke-linecap="butt" /><line x1="637.00" y1="1505.95" x2="626.80" y2="1505.95" stroke="#000" stroke-width="2.0" stroke-linecap="butt" /><line x1="162.60" y1="1488.70" x2="172.80" y2="1488.70" stroke="#000" stroke-width="2.0" stroke-linecap="butt" /><line x1="637.00" y1="1488.70" x2="626.80" y2="1488.70" stroke="#000" stroke-width="2.0" stroke-linecap="butt" /><line x1="162.60" y1="1471.46" x2="172.80" y2="1471.46" stroke="#000" stroke-width="2.0" stroke-linecap="butt" /><line x1="637.00" y1="1471.46" x2="626.80" y2="1471.46" stroke="#000" stroke-width="2.0" stroke-linecap="butt" /><line x1="162.60" y1="1454.21" x2="172.80" y2="1454.21" stroke="#000" stroke-width="2.0" stroke-linecap="butt" /><line x1="637.00" y1="1454.21" x2="626.80" y2="1454.21" stroke="#000" stroke-width="2.0" stroke-linecap="butt" /><line x1="162.60" y1="1419.73" x2="172.80" y2="1419.73" stroke="#000" stroke-width="2.0" stroke-linecap="butt" /><line x1="637.00" y1="1419.73" x2="626.80" y2="1419.73" stroke="#000" stroke-width="2.0" stroke-linecap="butt" /><line x1="162.60" y1="1402.48" x2="172.80" y2="1402.48" stroke="#000" stroke-width="2.0" stroke-linecap="butt" /><line x1="637.00" y1="1402.48" x2="626.80" y2="1402.48" stroke="#000" stroke-width="2.0" stroke-linecap="butt" /><line x1="162.60" y1="1385.24" x2="172.80" y2="1385.24" stroke="#000" stroke-width="2.0" stroke-linecap="butt" /><line x1="637.00" y1="1385.24" x2="626.80" y2="1385.24" stroke="#000" stroke-width="2.0" stroke-linecap="butt" /><line x1="162.60" y1="1367.99" x2="172.80" y2="1367.99" stroke="#000" stroke-width="2.0" stroke-linecap="butt" /><line x1="637.00" y1="1367.99" x2="626.80" y2="1367.99" stroke="#000" stroke-width="2.0" stroke-linecap="butt" /><line x1="162.60" y1="1333.51" x2="172.80" y2="1333.51" stroke="#000" stroke-width="2.0" stroke-linecap="butt" /><line x1="637.00" y1="1333.51" x2="626.80" y2="1333.51" stroke="#000" stroke-width="2.0" stroke-linecap="butt" /><line x1="162.60" y1="1316.26" x2="172.80" y2="1316.26" stroke="#000" stroke-width="2.0" stroke-linecap="butt" /><line x1="637.00" y1="1316.26" x2="626.80" y2="1316.26" stroke="#000" stroke-width="2.0" stroke-linecap="butt" /><line x1="162.60" y1="1299.02" x2="172.80" y2="1299.02" stroke="#000" stroke-width="2.0" stroke-linecap="butt" /><line x1="637.00" y1="1299.02" x2="626.80" y2="1299.02" stroke="#000" stroke-width="2.0" stroke-linecap="butt" /><line x1="162.60" y1="1281.77" x2="172.80" y2="1281.77" stroke="#000" stroke-width="2.0" stroke-linecap="butt" /><line x1="637.00" y1="1281.77" x2="626.80" y2="1281.77" stroke="#000" stroke-width="2.0" stroke-linecap="butt" /><line x1="162.60" y1="1247.29" x2="172.80" y2="1247.29" stroke="#000" stroke-width="2.0" stroke-linecap="butt" /><line x1="637.00" y1="1247.29" x2="626.80" y2="1247.29" stroke="#000" stroke-width="2.0" stroke-linecap="butt" /><line x1="162.60" y1="1230.04" x2="172.80" y2="1230.04" stroke="#000" stroke-width="2.0" stroke-linecap="butt" /><line x1="637.00" y1="1230.04" x2="626.80" y2="1230.04" stroke="#000" stroke-width="2.0" stroke-linecap="butt" /><line x1="162.60" y1="1212.80" x2="172.80" y2="1212.80" stroke="#000" stroke-width="2.0" stroke-linecap="butt" /><line x1="637.00" y1="1212.80" x2="626.80" y2="1212.80" stroke="#000" stroke-width="2.0" stroke-linecap="butt" /><line x1="162.60" y1="1195.55" x2="172.80" y2="1195.55" stroke="#000" stroke-width="2.0" stroke-linecap="butt" /><line x1="637.00" y1="1195.55" x2="626.80" y2="1195.55" stroke="#000" stroke-width="2.0" stroke-linecap="butt" /><rect x="162.60" y="1161.00" width="474.40" height="379.40" fill="none" stroke="#000" stroke-width="2.1"/></g>
<text transform="matrix(0.4730 0 0 0.4894 100.51 1196.11)" font-family="Liberation Serif" font-style="normal" font-weight="normal" font-size="100">0.4</text>
<text transform="matrix(0.4730 0 0 0.4894 101.48 1282.33)" font-family="Liberation Serif" font-style="normal" font-weight="normal" font-size="100">0.2</text>
<text transform="matrix(0.4730 0 0 0.4894 136.25 1368.55)" font-family="Liberation Serif" font-style="normal" font-weight="normal" font-size="100">0</text>
<text transform="matrix(0.4730 0 0 0.4894 85.73 1454.77)" font-family="Liberation Serif" font-style="normal" font-weight="normal" font-size="100">-0.2</text>
<text transform="matrix(0.4730 0 0 0.4894 84.76 1540.99)" font-family="Liberation Serif" font-style="normal" font-weight="normal" font-size="100">-0.4</text>
<g><line x1="959.67" y1="1534.50" x2="959.67" y2="1155.90" stroke="#1a1a1a" stroke-width="2.9" stroke-dasharray="0.95 4.58"/><line x1="1078.15" y1="1534.50" x2="1078.15" y2="1155.90" stroke="#1a1a1a" stroke-width="2.9" stroke-dasharray="0.95 4.58"/><line x1="1196.62" y1="1534.50" x2="1196.62" y2="1155.90" stroke="#1a1a1a" stroke-width="2.9" stroke-dasharray="0.95 4.58"/><line x1="841.20" y1="1517.10" x2="1315.10" y2="1517.10" stroke="#1a1a1a" stroke-width="2.9" stroke-dasharray="0.95 4.58" stroke-dashoffset="-0.6"/><line x1="841.20" y1="1431.03" x2="1315.10" y2="1431.03" stroke="#1a1a1a" stroke-width="2.9" stroke-dasharray="0.95 4.58" stroke-dashoffset="-0.6"/><line x1="841.20" y1="1344.95" x2="1315.10" y2="1344.95" stroke="#1a1a1a" stroke-width="2.9" stroke-dasharray="0.95 4.58" stroke-dashoffset="-0.6"/><line x1="841.20" y1="1258.88" x2="1315.10" y2="1258.88" stroke="#1a1a1a" stroke-width="2.9" stroke-dasharray="0.95 4.58" stroke-dashoffset="-0.6"/><line x1="841.20" y1="1172.80" x2="1315.10" y2="1172.80" stroke="#1a1a1a" stroke-width="2.9" stroke-dasharray="0.95 4.58" stroke-dashoffset="-0.6"/><line x1="959.67" y1="1534.50" x2="959.67" y2="1514.00" stroke="#000" stroke-width="2.0" stroke-linecap="butt" /><line x1="959.67" y1="1155.90" x2="959.67" y2="1176.40" stroke="#000" stroke-width="2.0" stroke-linecap="butt" /><line x1="1078.15" y1="1534.50" x2="1078.15" y2="1514.00" stroke="#000" stroke-width="2.0" stroke-linecap="butt" /><line x1="1078.15" y1="1155.90" x2="1078.15" y2="1176.40" stroke="#000" stroke-width="2.0" stroke-linecap="butt" /><line x1="1196.62" y1="1534.50" x2="1196.62" y2="1514.00" stroke="#000" stroke-width="2.0" stroke-linecap="butt" /><line x1="1196.62" y1="1155.90" x2="1196.62" y2="1176.40" stroke="#000" stroke-width="2.0" stroke-linecap="butt" /><line x1="864.89" y1="1534.50" x2="864.89" y2="1524.30" stroke="#000" stroke-width="2.0" stroke-linecap="butt" /><line x1="864.89" y1="1155.90" x2="864.89" y2="1166.10" stroke="#000" stroke-width="2.0" stroke-linecap="butt" /><line x1="888.59" y1="1534.50" x2="888.59" y2="1524.30" stroke="#000" stroke-width="2.0" stroke-linecap="butt" /><line x1="888.59" y1="1155.90" x2="888.59" y2="1166.10" stroke="#000" stroke-width="2.0" stroke-linecap="butt" /><line x1="912.29" y1="1534.50" x2="912.29" y2="1524.30" stroke="#000" stroke-width="2.0" stroke-linecap="butt" /><line x1="912.29" y1="1155.90" x2="912.29" y2="1166.10" stroke="#000" stroke-width="2.0" stroke-linecap="butt" /><line x1="935.98" y1="1534.50" x2="935.98" y2="1524.30" stroke="#000" stroke-width="2.0" stroke-linecap="butt" /><line x1="935.98" y1="1155.90" x2="935.98" y2="1166.10" stroke="#000" stroke-width="2.0" stroke-linecap="butt" /><line x1="983.37" y1="1534.50" x2="983.37" y2="1524.30" stroke="#000" stroke-width="2.0" stroke-linecap="butt" /><line x1="983.37" y1="1155.90" x2="983.37" y2="1166.10" stroke="#000" stroke-width="2.0" stroke-linecap="butt" /><line x1="1007.07" y1="1534.50" x2="1007.07" y2="1524.30" stroke="#000" stroke-width="2.0" stroke-linecap="butt" /><line x1="1007.07" y1="1155.90" x2="1007.07" y2="1166.10" stroke="#000" stroke-width="2.0" stroke-linecap="butt" /><line x1="1030.76" y1="1534.50" x2="1030.76" y2="1524.30" stroke="#000" stroke-width="2.0" stroke-linecap="butt" /><line x1="1030.76" y1="1155.90" x2="1030.76" y2="1166.10" stroke="#000" stroke-width="2.0" stroke-linecap="butt" /><line x1="1054.45" y1="1534.50" x2="1054.45" y2="1524.30" stroke="#000" stroke-width="2.0" stroke-linecap="butt" /><line x1="1054.45" y1="1155.90" x2="1054.45" y2="1166.10" stroke="#000" stroke-width="2.0" stroke-linecap="butt" /><line x1="1101.85" y1="1534.50" x2="1101.85" y2="1524.30" stroke="#000" stroke-width="2.0" stroke-linecap="butt" /><line x1="1101.85" y1="1155.90" x2="1101.85" y2="1166.10" stroke="#000" stroke-width="2.0" stroke-linecap="butt" /><line x1="1125.54" y1="1534.50" x2="1125.54" y2="1524.30" stroke="#000" stroke-width="2.0" stroke-linecap="butt" /><line x1="1125.54" y1="1155.90" x2="1125.54" y2="1166.10" stroke="#000" stroke-width="2.0" stroke-linecap="butt" /><line x1="1149.23" y1="1534.50" x2="1149.23" y2="1524.30" stroke="#000" stroke-width="2.0" stroke-linecap="butt" /><line x1="1149.23" y1="1155.90" x2="1149.23" y2="1166.10" stroke="#000" stroke-width="2.0" stroke-linecap="butt" /><line x1="1172.93" y1="1534.50" x2="1172.93" y2="1524.30" stroke="#000" stroke-width="2.0" stroke-linecap="butt" /><line x1="1172.93" y1="1155.90" x2="1172.93" y2="1166.10" stroke="#000" stroke-width="2.0" stroke-linecap="butt" /><line x1="1220.32" y1="1534.50" x2="1220.32" y2="1524.30" stroke="#000" stroke-width="2.0" stroke-linecap="butt" /><line x1="1220.32" y1="1155.90" x2="1220.32" y2="1166.10" stroke="#000" stroke-width="2.0" stroke-linecap="butt" /><line x1="1244.01" y1="1534.50" x2="1244.01" y2="1524.30" stroke="#000" stroke-width="2.0" stroke-linecap="butt" /><line x1="1244.01" y1="1155.90" x2="1244.01" y2="1166.10" stroke="#000" stroke-width="2.0" stroke-linecap="butt" /><line x1="1267.71" y1="1534.50" x2="1267.71" y2="1524.30" stroke="#000" stroke-width="2.0" stroke-linecap="butt" /><line x1="1267.71" y1="1155.90" x2="1267.71" y2="1166.10" stroke="#000" stroke-width="2.0" stroke-linecap="butt" /><line x1="1291.40" y1="1534.50" x2="1291.40" y2="1524.30" stroke="#000" stroke-width="2.0" stroke-linecap="butt" /><line x1="1291.40" y1="1155.90" x2="1291.40" y2="1166.10" stroke="#000" stroke-width="2.0" stroke-linecap="butt" /><line x1="841.20" y1="1517.10" x2="861.70" y2="1517.10" stroke="#000" stroke-width="2.0" stroke-linecap="butt" /><line x1="1315.10" y1="1517.10" x2="1294.60" y2="1517.10" stroke="#000" stroke-width="2.0" stroke-linecap="butt" /><line x1="841.20" y1="1431.03" x2="861.70" y2="1431.03" stroke="#000" stroke-width="2.0" stroke-linecap="butt" /><line x1="1315.10" y1="1431.03" x2="1294.60" y2="1431.03" stroke="#000" stroke-width="2.0" stroke-linecap="butt" /><line x1="841.20" y1="1344.95" x2="861.70" y2="1344.95" stroke="#000" stroke-width="2.0" stroke-linecap="butt" /><line x1="1315.10" y1="1344.95" x2="1294.60" y2="1344.95" stroke="#000" stroke-width="2.0" stroke-linecap="butt" /><line x1="841.20" y1="1258.88" x2="861.70" y2="1258.88" stroke="#000" stroke-width="2.0" stroke-linecap="butt" /><line x1="1315.10" y1="1258.88" x2="1294.60" y2="1258.88" stroke="#000" stroke-width="2.0" stroke-linecap="butt" /><line x1="841.20" y1="1172.80" x2="861.70" y2="1172.80" stroke="#000" stroke-width="2.0" stroke-linecap="butt" /><line x1="1315.10" y1="1172.80" x2="1294.60" y2="1172.80" stroke="#000" stroke-width="2.0" stroke-linecap="butt" /><line x1="841.20" y1="1499.88" x2="851.40" y2="1499.88" stroke="#000" stroke-width="2.0" stroke-linecap="butt" /><line x1="1315.10" y1="1499.88" x2="1304.90" y2="1499.88" stroke="#000" stroke-width="2.0" stroke-linecap="butt" /><line x1="841.20" y1="1482.67" x2="851.40" y2="1482.67" stroke="#000" stroke-width="2.0" stroke-linecap="butt" /><line x1="1315.10" y1="1482.67" x2="1304.90" y2="1482.67" stroke="#000" stroke-width="2.0" stroke-linecap="butt" /><line x1="841.20" y1="1465.46" x2="851.40" y2="1465.46" stroke="#000" stroke-width="2.0" stroke-linecap="butt" /><line x1="1315.10" y1="1465.46" x2="1304.90" y2="1465.46" stroke="#000" stroke-width="2.0" stroke-linecap="butt" /><line x1="841.20" y1="1448.24" x2="851.40" y2="1448.24" stroke="#000" stroke-width="2.0" stroke-linecap="butt" /><line x1="1315.10" y1="1448.24" x2="1304.90" y2="1448.24" stroke="#000" stroke-width="2.0" stroke-linecap="butt" /><line x1="841.20" y1="1413.81" x2="851.40" y2="1413.81" stroke="#000" stroke-width="2.0" stroke-linecap="butt" /><line x1="1315.10" y1="1413.81" x2="1304.90" y2="1413.81" stroke="#000" stroke-width="2.0" stroke-linecap="butt" /><line x1="841.20" y1="1396.60" x2="851.40" y2="1396.60" stroke="#000" stroke-width="2.0" stroke-linecap="butt" /><line x1="1315.10" y1="1396.60" x2="1304.90" y2="1396.60" stroke="#000" stroke-width="2.0" stroke-linecap="butt" /><line x1="841.20" y1="1379.38" x2="851.40" y2="1379.38" stroke="#000" stroke-width="2.0" stroke-linecap="butt" /><line x1="1315.10" y1="1379.38" x2="1304.90" y2="1379.38" stroke="#000" stroke-width="2.0" stroke-linecap="butt" /><line x1="841.20" y1="1362.16" x2="851.40" y2="1362.16" stroke="#000" stroke-width="2.0" stroke-linecap="butt" /><line x1="1315.10" y1="1362.16" x2="1304.90" y2="1362.16" stroke="#000" stroke-width="2.0" stroke-linecap="butt" /><line x1="841.20" y1="1327.74" x2="851.40" y2="1327.74" stroke="#000" stroke-width="2.0" stroke-linecap="butt" /><line x1="1315.10" y1="1327.74" x2="1304.90" y2="1327.74" stroke="#000" stroke-width="2.0" stroke-linecap="butt" /><line x1="841.20" y1="1310.52" x2="851.40" y2="1310.52" stroke="#000" stroke-width="2.0" stroke-linecap="butt" /><line x1="1315.10" y1="1310.52" x2="1304.90" y2="1310.52" stroke="#000" stroke-width="2.0" stroke-linecap="butt" /><line x1="841.20" y1="1293.31" x2="851.40" y2="1293.31" stroke="#000" stroke-width="2.0" stroke-linecap="butt" /><line x1="1315.10" y1="1293.31" x2="1304.90" y2="1293.31" stroke="#000" stroke-width="2.0" stroke-linecap="butt" /><line x1="841.20" y1="1276.09" x2="851.40" y2="1276.09" stroke="#000" stroke-width="2.0" stroke-linecap="butt" /><line x1="1315.10" y1="1276.09" x2="1304.90" y2="1276.09" stroke="#000" stroke-width="2.0" stroke-linecap="butt" /><line x1="841.20" y1="1241.66" x2="851.40" y2="1241.66" stroke="#000" stroke-width="2.0" stroke-linecap="butt" /><line x1="1315.10" y1="1241.66" x2="1304.90" y2="1241.66" stroke="#000" stroke-width="2.0" stroke-linecap="butt" /><line x1="841.20" y1="1224.44" x2="851.40" y2="1224.44" stroke="#000" stroke-width="2.0" stroke-linecap="butt" /><line x1="1315.10" y1="1224.44" x2="1304.90" y2="1224.44" stroke="#000" stroke-width="2.0" stroke-linecap="butt" /><line x1="841.20" y1="1207.23" x2="851.40" y2="1207.23" stroke="#000" stroke-width="2.0" stroke-linecap="butt" /><line x1="1315.10" y1="1207.23" x2="1304.90" y2="1207.23" stroke="#000" stroke-width="2.0" stroke-linecap="butt" /><line x1="841.20" y1="1190.02" x2="851.40" y2="1190.02" stroke="#000" stroke-width="2.0" stroke-linecap="butt" /><line x1="1315.10" y1="1190.02" x2="1304.90" y2="1190.02" stroke="#000" stroke-width="2.0" stroke-linecap="butt" /><rect x="841.20" y="1155.90" width="473.90" height="378.60" fill="none" stroke="#000" stroke-width="2.1"/></g>
<text transform="matrix(0.4730 0 0 0.4894 813.49 1190.60)" font-family="Liberation Serif" font-style="normal" font-weight="normal" font-size="100">1</text>
<text transform="matrix(0.4730 0 0 0.4894 779.02 1276.67)" font-family="Liberation Serif" font-style="normal" font-weight="normal" font-size="100">0.5</text>
<text transform="matrix(0.4730 0 0 0.4894 814.85 1362.75)" font-family="Liberation Serif" font-style="normal" font-weight="normal" font-size="100">0</text>
<text transform="matrix(0.4730 0 0 0.4894 763.27 1448.83)" font-family="Liberation Serif" font-style="normal" font-weight="normal" font-size="100">-0.5</text>
<text transform="matrix(0.4730 0 0 0.4894 797.74 1534.90)" font-family="Liberation Serif" font-style="normal" font-weight="normal" font-size="100">-1</text>
<path d="M195.50,1274.54 L200.68,1276.06 L205.86,1277.64 L211.04,1279.28 L216.21,1280.96 L221.39,1282.69 L226.57,1284.45 L231.75,1286.23 L236.93,1288.04 L242.11,1289.86 L247.28,1291.69 L252.46,1293.53 L257.64,1295.36 L262.82,1297.18 L268.00,1298.99 L273.18,1300.79 L278.36,1302.56 L283.53,1304.30 L288.71,1306.01 L293.89,1307.68 L299.07,1309.31 L304.25,1310.90 L309.43,1312.44 L314.61,1313.92 L319.78,1315.35 L324.96,1316.72 L330.14,1318.04 L335.32,1319.28 L340.50,1320.46 L345.68,1321.57 L350.85,1322.61 L356.03,1323.57 L361.21,1324.46 L366.39,1325.27 L371.57,1326.00 L376.75,1326.65 L381.93,1327.22 L387.10,1327.70 L392.28,1328.10 L397.46,1328.42 L402.64,1328.66 L407.82,1328.81 L413.00,1328.87 L418.17,1328.85 L423.35,1328.75 L428.53,1328.56 L433.71,1328.30 L438.89,1327.94 L444.07,1327.51 L449.25,1327.00 L454.42,1326.41 L459.60,1325.75 L464.78,1325.01 L469.96,1324.19 L475.14,1323.31 L480.32,1322.36 L485.49,1321.34 L490.67,1320.26 L495.85,1319.12 L501.03,1317.93 L506.21,1316.68 L511.39,1315.38 L516.57,1314.04 L521.74,1312.65 L526.92,1311.23 L532.10,1309.77 L537.28,1308.29 L542.46,1306.78 L547.64,1305.25 L552.82,1303.70 L557.99,1302.15 L563.17,1300.59 L568.35,1299.03 L573.53,1297.48 L578.71,1295.94 L583.89,1294.42 L589.06,1292.93 L594.24,1291.47 L599.42,1290.05 L604.60,1288.68" fill="none" stroke="#FF0000" stroke-width="9.6"/>
<path d="M195.50,1328.83 L200.68,1328.71 L205.86,1328.62 L211.04,1328.56 L216.21,1328.52 L221.39,1328.50 L226.57,1328.51 L231.75,1328.53 L236.93,1328.56 L242.11,1328.61 L247.28,1328.68 L252.46,1328.76 L257.64,1328.84 L262.82,1328.94 L268.00,1329.05 L273.18,1329.16 L278.36,1329.28 L283.53,1329.40 L288.71,1329.52 L293.89,1329.65 L299.07,1329.78 L304.25,1329.91 L309.43,1330.04 L314.61,1330.17 L319.78,1330.29 L324.96,1330.41 L330.14,1330.53 L335.32,1330.65 L340.50,1330.75 L345.68,1330.86 L350.85,1330.95 L356.03,1331.04 L361.21,1331.12 L366.39,1331.20 L371.57,1331.26 L376.75,1331.32 L381.93,1331.37 L387.10,1331.41 L392.28,1331.44 L397.46,1331.46 L402.64,1331.47 L407.82,1331.47 L413.00,1331.46 L418.17,1331.45 L423.35,1331.42 L428.53,1331.38 L433.71,1331.34 L438.89,1331.29 L444.07,1331.22 L449.25,1331.15 L454.42,1331.08 L459.60,1330.99 L464.78,1330.90 L469.96,1330.80 L475.14,1330.69 L480.32,1330.58 L485.49,1330.47 L490.67,1330.35 L495.85,1330.22 L501.03,1330.10 L506.21,1329.97 L511.39,1329.85 L516.57,1329.72 L521.74,1329.59 L526.92,1329.47 L532.10,1329.35 L537.28,1329.23 L542.46,1329.12 L547.64,1329.01 L552.82,1328.92 L557.99,1328.83 L563.17,1328.75 L568.35,1328.69 L573.53,1328.63 L578.71,1328.60 L583.89,1328.58 L589.06,1328.57 L594.24,1328.59 L599.42,1328.63 L604.60,1328.69" fill="none" stroke="#006400" stroke-width="10.4" stroke-dasharray="11 11.15"/>
<path d="M195.90,1180.90 L198.47,1182.41 L201.04,1183.93 L203.61,1185.46 L206.18,1187.01 L208.75,1188.57 L211.32,1190.14 L213.89,1191.73 L216.46,1193.33 L219.03,1194.94 L221.60,1196.58 L224.17,1198.22 L226.75,1199.89 L229.32,1201.57 L231.89,1203.26 L234.46,1204.98 L237.03,1206.70 L239.60,1208.45 L242.17,1210.21 L244.74,1212.00 L247.31,1213.79 L249.88,1215.61 L252.45,1217.44 L255.02,1219.29 L257.59,1221.16 L260.16,1223.05 L262.73,1224.95 L265.30,1226.87 L267.87,1228.81 L270.44,1230.77 L273.01,1232.74 L275.58,1234.73 L278.15,1236.74 L280.72,1238.76 L283.29,1240.80 L285.87,1242.86 L288.44,1244.94 L291.01,1247.03 L293.58,1249.13 L296.15,1251.26 L298.72,1253.39 L301.29,1255.55 L303.86,1257.71 L306.43,1259.89 L309.00,1262.09 L311.57,1264.30 L314.14,1266.53 L316.71,1268.76 L319.28,1271.01 L321.85,1273.28 L324.42,1275.55 L326.99,1277.84 L329.56,1280.14 L332.13,1282.45 L334.70,1284.77 L337.27,1287.10 L339.84,1289.44 L342.42,1291.79 L344.99,1294.15 L347.56,1296.51 L350.13,1298.89 L352.70,1301.27 L355.27,1303.66 L357.84,1306.06 L360.41,1308.46 L362.98,1310.87 L365.55,1313.29 L368.12,1315.71 L370.69,1318.13 L373.26,1320.56 L375.83,1322.99 L378.40,1325.43 L380.97,1327.87 L383.54,1330.31 L386.11,1332.75 L388.68,1335.19 L391.25,1337.64 L393.82,1340.08 L396.39,1342.52 L398.96,1344.97 L401.54,1347.41 L404.11,1349.85 L406.68,1352.29 L409.25,1354.73 L411.82,1357.16 L414.39,1359.59 L416.96,1362.01 L419.53,1364.44 L422.10,1366.85 L424.67,1369.27 L427.24,1371.67 L429.81,1374.08 L432.38,1376.47 L434.95,1378.86 L437.52,1381.24 L440.09,1383.62 L442.66,1385.99 L445.23,1388.35 L447.80,1390.70 L450.37,1393.04 L452.94,1395.37 L455.51,1397.70 L458.08,1400.01 L460.66,1402.32 L463.23,1404.61 L465.80,1406.90 L468.37,1409.18 L470.94,1411.44 L473.51,1413.70 L476.08,1415.94 L478.65,1418.17 L481.22,1420.39 L483.79,1422.60 L486.36,1424.80 L488.93,1426.99 L491.50,1429.16 L494.07,1431.32 L496.64,1433.48 L499.21,1435.62 L501.78,1437.74 L504.35,1439.86 L506.92,1441.96 L509.49,1444.06 L512.06,1446.14 L514.63,1448.21 L517.21,1450.27 L519.78,1452.32 L522.35,1454.35 L524.92,1456.38 L527.49,1458.40 L530.06,1460.40 L532.63,1462.40 L535.20,1464.39 L537.77,1466.36 L540.34,1468.33 L542.91,1470.29 L545.48,1472.24 L548.05,1474.19 L550.62,1476.12 L553.19,1478.05 L555.76,1479.97 L558.33,1481.89 L560.90,1483.80 L563.47,1485.71 L566.04,1487.62 L568.61,1489.52 L571.18,1491.42 L573.75,1493.31 L576.33,1495.21 L578.90,1497.11 L581.47,1499.00 L584.04,1500.90 L586.61,1502.80 L589.18,1504.70 L591.75,1506.61 L594.32,1508.53 L596.89,1510.45 L599.46,1512.37 L602.03,1514.31 L604.60,1516.25" fill="none" stroke="#0000FF" stroke-width="9.6" stroke-dasharray="22.1 11.14"/>
<path d="M873.80,1270.88 L878.97,1269.33 L884.14,1267.80 L889.32,1266.30 L894.49,1264.82 L899.66,1263.37 L904.83,1261.95 L910.01,1260.56 L915.18,1259.20 L920.35,1257.87 L925.52,1256.57 L930.69,1255.31 L935.87,1254.08 L941.04,1252.88 L946.21,1251.72 L951.38,1250.60 L956.55,1249.51 L961.73,1248.47 L966.90,1247.46 L972.07,1246.49 L977.24,1245.57 L982.42,1244.68 L987.59,1243.84 L992.76,1243.04 L997.93,1242.28 L1003.10,1241.56 L1008.28,1240.89 L1013.45,1240.26 L1018.62,1239.68 L1023.79,1239.14 L1028.96,1238.65 L1034.14,1238.20 L1039.31,1237.80 L1044.48,1237.44 L1049.65,1237.13 L1054.83,1236.87 L1060.00,1236.65 L1065.17,1236.48 L1070.34,1236.35 L1075.51,1236.27 L1080.69,1236.24 L1085.86,1236.25 L1091.03,1236.31 L1096.20,1236.41 L1101.37,1236.56 L1106.55,1236.75 L1111.72,1236.99 L1116.89,1237.28 L1122.06,1237.61 L1127.24,1237.98 L1132.41,1238.39 L1137.58,1238.85 L1142.75,1239.35 L1147.92,1239.90 L1153.10,1240.48 L1158.27,1241.11 L1163.44,1241.77 L1168.61,1242.48 L1173.78,1243.22 L1178.96,1244.00 L1184.13,1244.82 L1189.30,1245.68 L1194.47,1246.57 L1199.65,1247.50 L1204.82,1248.46 L1209.99,1249.45 L1215.16,1250.47 L1220.33,1251.53 L1225.51,1252.61 L1230.68,1253.73 L1235.85,1254.87 L1241.02,1256.03 L1246.19,1257.23 L1251.37,1258.44 L1256.54,1259.68 L1261.71,1260.94 L1266.88,1262.22 L1272.06,1263.52 L1277.23,1264.83 L1282.40,1266.16" fill="none" stroke="#FF0000" stroke-width="9.6"/>
<path d="M873.80,1350.72 L878.98,1351.21 L884.16,1351.70 L889.34,1352.21 L894.51,1352.72 L899.69,1353.24 L904.87,1353.76 L910.05,1354.28 L915.23,1354.81 L920.41,1355.33 L925.58,1355.85 L930.76,1356.36 L935.94,1356.86 L941.12,1357.36 L946.30,1357.85 L951.48,1358.33 L956.66,1358.79 L961.83,1359.24 L967.01,1359.68 L972.19,1360.10 L977.37,1360.50 L982.55,1360.89 L987.73,1361.25 L992.91,1361.60 L998.08,1361.93 L1003.26,1362.23 L1008.44,1362.52 L1013.62,1362.78 L1018.80,1363.02 L1023.98,1363.23 L1029.15,1363.42 L1034.33,1363.59 L1039.51,1363.73 L1044.69,1363.85 L1049.87,1363.94 L1055.05,1364.00 L1060.23,1364.04 L1065.40,1364.06 L1070.58,1364.05 L1075.76,1364.01 L1080.94,1363.95 L1086.12,1363.87 L1091.30,1363.76 L1096.47,1363.63 L1101.65,1363.47 L1106.83,1363.29 L1112.01,1363.09 L1117.19,1362.87 L1122.37,1362.62 L1127.55,1362.36 L1132.72,1362.07 L1137.90,1361.77 L1143.08,1361.45 L1148.26,1361.11 L1153.44,1360.76 L1158.62,1360.39 L1163.79,1360.01 L1168.97,1359.62 L1174.15,1359.21 L1179.33,1358.80 L1184.51,1358.38 L1189.69,1357.95 L1194.87,1357.52 L1200.04,1357.08 L1205.22,1356.64 L1210.40,1356.20 L1215.58,1355.77 L1220.76,1355.34 L1225.94,1354.91 L1231.12,1354.49 L1236.29,1354.08 L1241.47,1353.69 L1246.65,1353.30 L1251.83,1352.94 L1257.01,1352.59 L1262.19,1352.26 L1267.36,1351.96 L1272.54,1351.68 L1277.72,1351.44 L1282.90,1351.22" fill="none" stroke="#006400" stroke-width="10.4" stroke-dasharray="11 11.15"/>
<path d="M873.80,1399.54 L876.37,1398.94 L878.94,1398.34 L881.51,1397.74 L884.08,1397.13 L886.65,1396.52 L889.22,1395.90 L891.79,1395.28 L894.36,1394.66 L896.93,1394.03 L899.50,1393.40 L902.07,1392.77 L904.64,1392.13 L907.21,1391.50 L909.78,1390.85 L912.35,1390.21 L914.92,1389.56 L917.49,1388.91 L920.06,1388.25 L922.63,1387.59 L925.20,1386.93 L927.77,1386.27 L930.34,1385.60 L932.91,1384.94 L935.48,1384.26 L938.05,1383.59 L940.62,1382.91 L943.18,1382.23 L945.75,1381.55 L948.32,1380.87 L950.89,1380.18 L953.46,1379.49 L956.03,1378.80 L958.60,1378.11 L961.17,1377.41 L963.74,1376.71 L966.31,1376.01 L968.88,1375.31 L971.45,1374.61 L974.02,1373.90 L976.59,1373.19 L979.16,1372.48 L981.73,1371.77 L984.30,1371.06 L986.87,1370.34 L989.44,1369.62 L992.01,1368.91 L994.58,1368.19 L997.15,1367.46 L999.72,1366.74 L1002.29,1366.02 L1004.86,1365.29 L1007.43,1364.56 L1010.00,1363.83 L1012.57,1363.10 L1015.14,1362.37 L1017.71,1361.64 L1020.28,1360.91 L1022.85,1360.17 L1025.42,1359.44 L1027.99,1358.70 L1030.56,1357.97 L1033.13,1357.23 L1035.70,1356.49 L1038.27,1355.75 L1040.84,1355.01 L1043.41,1354.27 L1045.98,1353.53 L1048.55,1352.79 L1051.12,1352.04 L1053.69,1351.30 L1056.26,1350.56 L1058.83,1349.81 L1061.40,1349.07 L1063.97,1348.32 L1066.54,1347.58 L1069.11,1346.83 L1071.68,1346.09 L1074.25,1345.34 L1076.82,1344.60 L1079.38,1343.85 L1081.95,1343.11 L1084.52,1342.36 L1087.09,1341.62 L1089.66,1340.87 L1092.23,1340.13 L1094.80,1339.39 L1097.37,1338.64 L1099.94,1337.90 L1102.51,1337.16 L1105.08,1336.41 L1107.65,1335.67 L1110.22,1334.93 L1112.79,1334.19 L1115.36,1333.45 L1117.93,1332.71 L1120.50,1331.97 L1123.07,1331.23 L1125.64,1330.49 L1128.21,1329.76 L1130.78,1329.02 L1133.35,1328.29 L1135.92,1327.55 L1138.49,1326.82 L1141.06,1326.09 L1143.63,1325.36 L1146.20,1324.63 L1148.77,1323.90 L1151.34,1323.18 L1153.91,1322.45 L1156.48,1321.73 L1159.05,1321.00 L1161.62,1320.28 L1164.19,1319.56 L1166.76,1318.84 L1169.33,1318.13 L1171.90,1317.41 L1174.47,1316.70 L1177.04,1315.99 L1179.61,1315.28 L1182.18,1314.57 L1184.75,1313.87 L1187.32,1313.16 L1189.89,1312.46 L1192.46,1311.76 L1195.03,1311.06 L1197.60,1310.36 L1200.17,1309.67 L1202.74,1308.98 L1205.31,1308.29 L1207.88,1307.60 L1210.45,1306.92 L1213.02,1306.23 L1215.58,1305.55 L1218.15,1304.88 L1220.72,1304.20 L1223.29,1303.53 L1225.86,1302.86 L1228.43,1302.19 L1231.00,1301.52 L1233.57,1300.86 L1236.14,1300.20 L1238.71,1299.54 L1241.28,1298.89 L1243.85,1298.24 L1246.42,1297.59 L1248.99,1296.94 L1251.56,1296.30 L1254.13,1295.66 L1256.70,1295.03 L1259.27,1294.39 L1261.84,1293.76 L1264.41,1293.14 L1266.98,1292.51 L1269.55,1291.89 L1272.12,1291.27 L1274.69,1290.66 L1277.26,1290.05 L1279.83,1289.44 L1282.40,1288.84" fill="none" stroke="#0000FF" stroke-width="9.6" stroke-dasharray="22.3 10.97"/>
<text x="571.3" y="1267.6" font-family="Liberation Serif, serif" font-style="italic" font-size="52">I</text><text transform="matrix(0.3437 0 0 0.3499 592.43 1274.85)" font-family="Liberation Serif" font-style="normal" font-weight="normal" font-size="100" stroke="#000" stroke-width="0.5" vector-effect="non-scaling-stroke">1</text>
<text x="564.4" y="1375.9" font-family="Liberation Serif, serif" font-style="italic" font-size="52">I</text><text transform="matrix(0.3842 0 0 0.3459 585.66 1383.45)" font-family="Liberation Serif" font-style="normal" font-weight="normal" font-size="100" stroke="#000" stroke-width="0.5" vector-effect="non-scaling-stroke">2</text>
<text x="559.1" y="1470.5" font-family="Liberation Serif, serif" font-style="italic" font-size="52">J</text><text transform="matrix(0.3579 0 0 0.3423 584.20 1476.85)" font-family="Liberation Serif" font-style="normal" font-weight="normal" font-size="100" stroke="#000" stroke-width="0.5" vector-effect="non-scaling-stroke">1</text>
<text x="956.1" y="1226.5" font-family="Liberation Serif, serif" font-style="italic" font-size="52">I</text><text transform="matrix(0.3522 0 0 0.3545 977.15 1233.65)" font-family="Liberation Serif" font-style="normal" font-weight="normal" font-size="100" stroke="#000" stroke-width="0.5" vector-effect="non-scaling-stroke">1</text>
<text x="906.9" y="1435.4" font-family="Liberation Serif, serif" font-style="italic" font-size="52">J</text><text transform="matrix(0.3437 0 0 0.3408 932.43 1441.75)" font-family="Liberation Serif" font-style="normal" font-weight="normal" font-size="100" stroke="#000" stroke-width="0.5" vector-effect="non-scaling-stroke">1</text>
<text x="1218.6" y="1407.6" font-family="Liberation Serif, serif" font-style="italic" font-size="52">I</text><text transform="matrix(0.3817 0 0 0.3428 1239.57 1415.25)" font-family="Liberation Serif" font-style="normal" font-weight="normal" font-size="100" stroke="#000" stroke-width="0.5" vector-effect="non-scaling-stroke">2</text>
<text transform="matrix(0.4991 0 0 0.5197 136.75 1586.90)" font-family="Liberation Serif" font-style="normal" font-weight="normal" font-size="100">-44</text>
<text transform="matrix(0.5094 0 0 0.5197 367.51 1586.90)" font-family="Liberation Serif" font-style="normal" font-weight="normal" font-size="100">-22</text>
<text transform="matrix(0.4813 0 0 0.5197 618.07 1586.90)" font-family="Liberation Serif" font-style="normal" font-weight="normal" font-size="100">0</text>
<line x1="150.50" y1="1557.40" x2="155.50" y2="1557.40" stroke="#555" stroke-width="0.8" stroke-linecap="butt" />
<line x1="257.30" y1="1557.40" x2="261.90" y2="1557.40" stroke="#555" stroke-width="0.8" stroke-linecap="butt" />
<line x1="291.50" y1="1557.40" x2="297.00" y2="1557.40" stroke="#555" stroke-width="0.8" stroke-linecap="butt" />
<line x1="490.60" y1="1557.40" x2="495.20" y2="1557.40" stroke="#555" stroke-width="0.8" stroke-linecap="butt" />
<line x1="524.80" y1="1557.40" x2="530.30" y2="1557.40" stroke="#555" stroke-width="0.8" stroke-linecap="butt" />
<text transform="matrix(0.4991 0 0 0.5197 817.45 1586.90)" font-family="Liberation Serif" font-style="normal" font-weight="normal" font-size="100">-44</text>
<text transform="matrix(0.5094 0 0 0.5197 1048.21 1586.90)" font-family="Liberation Serif" font-style="normal" font-weight="normal" font-size="100">-22</text>
<text transform="matrix(0.4813 0 0 0.5197 1298.77 1586.90)" font-family="Liberation Serif" font-style="normal" font-weight="normal" font-size="100">0</text>
<line x1="831.20" y1="1557.40" x2="836.20" y2="1557.40" stroke="#555" stroke-width="0.8" stroke-linecap="butt" />
<line x1="938.00" y1="1557.40" x2="942.60" y2="1557.40" stroke="#555" stroke-width="0.8" stroke-linecap="butt" />
<line x1="972.20" y1="1557.40" x2="977.70" y2="1557.40" stroke="#555" stroke-width="0.8" stroke-linecap="butt" />
<line x1="1171.30" y1="1557.40" x2="1175.90" y2="1557.40" stroke="#555" stroke-width="0.8" stroke-linecap="butt" />
<line x1="1205.50" y1="1557.40" x2="1211.00" y2="1557.40" stroke="#555" stroke-width="0.8" stroke-linecap="butt" />
<text x="358.6" y="1643.4" font-family="Liberation Serif, serif" font-style="italic" font-size="48">y</text>
<text transform="matrix(0.4042 0 0 0.3650 383.59 1623.45)" font-family="Liberation Serif" font-style="normal" font-weight="normal" font-size="100" stroke="#000" stroke-width="0.5" vector-effect="non-scaling-stroke">L</text>
<text transform="matrix(0.3522 0 0 0.3469 382.15 1656.75)" font-family="Liberation Serif" font-style="normal" font-weight="normal" font-size="100" stroke="#000" stroke-width="0.5" vector-effect="non-scaling-stroke">1</text>
<text x="422.85" y="1655.6" text-anchor="middle" font-family="Liberation Serif, serif" font-size="72">/</text>
<text x="439.6" y="1644.5" font-family="Liberation Serif, serif" font-style="italic" font-size="48">a</text>
<text x="1034.1" y="1643.4" font-family="Liberation Serif, serif" font-style="italic" font-size="48">y</text>
<text transform="matrix(0.4042 0 0 0.3650 1059.09 1623.45)" font-family="Liberation Serif" font-style="normal" font-weight="normal" font-size="100" stroke="#000" stroke-width="0.5" vector-effect="non-scaling-stroke">L</text>
<text transform="matrix(0.3522 0 0 0.3469 1057.65 1656.75)" font-family="Liberation Serif" font-style="normal" font-weight="normal" font-size="100" stroke="#000" stroke-width="0.5" vector-effect="non-scaling-stroke">1</text>
<text x="1098.35" y="1655.6" text-anchor="middle" font-family="Liberation Serif, serif" font-size="72">/</text>
<text x="1115.1" y="1644.5" font-family="Liberation Serif, serif" font-style="italic" font-size="48">a</text>
<text x="28.34" y="823.00" font-family="Liberation Sans" font-style="normal" font-weight="bold" font-size="48">b</text>
<text x="714.42" y="825.40" font-family="Liberation Sans" font-style="normal" font-weight="bold" font-size="48">c</text>
<text x="40.03" y="1210.40" font-family="Liberation Sans" font-style="normal" font-weight="bold" font-size="48">d</text>
<text x="724.52" y="1218.70" font-family="Liberation Sans" font-style="normal" font-weight="bold" font-size="48">e</text>
<g transform="translate(0,0)"></g>
<text transform="translate(60.5,960) rotate(-90)" font-family="Liberation Serif, serif" font-style="italic" font-size="48">η</text>
<g transform="translate(68.97,1476.5) rotate(-90)"><text x="0.3" y="-0.3" font-family="Liberation Serif, serif" font-style="italic" font-size="52">I</text><text transform="matrix(0.3494 0 0 0.3484 21.48 7.15)" font-family="Liberation Serif" font-style="normal" font-weight="normal" font-size="100" stroke="#000" stroke-width="0.5" vector-effect="non-scaling-stroke">1</text><text transform="matrix(0.3425 0 0 0.5762 46.35 0.19)" font-family="Liberation Serif" font-style="normal" font-weight="normal" font-size="100" stroke="#000" stroke-width="0.5" vector-effect="non-scaling-stroke">,</text><text x="67.5" y="-0.3" font-family="Liberation Serif, serif" font-style="italic" font-size="52">I</text><text transform="matrix(0.3954 0 0 0.3504 87.91 7.15)" font-family="Liberation Serif" font-style="normal" font-weight="normal" font-size="100" stroke="#000" stroke-width="0.5" vector-effect="non-scaling-stroke">2</text><text transform="matrix(0.3525 0 0 0.5762 113.26 0.19)" font-family="Liberation Serif" font-style="normal" font-weight="normal" font-size="100" stroke="#000" stroke-width="0.5" vector-effect="non-scaling-stroke">,</text><text x="135.3" y="0.7" font-family="Liberation Serif, serif" font-style="italic" font-size="52">J</text><text transform="matrix(0.3636 0 0 0.3484 160.95 7.15)" font-family="Liberation Serif" font-style="normal" font-weight="normal" font-size="100" stroke="#000" stroke-width="0.5" vector-effect="non-scaling-stroke">1</text><text x="209.8" y="-0.3" font-family="Liberation Serif, serif" font-style="italic" font-size="52">I</text><text transform="matrix(0.3822 0 0 0.3527 230.39 7.41)" font-family="Liberation Serif" font-style="normal" font-weight="normal" font-size="100" stroke="#000" stroke-width="0.5" vector-effect="non-scaling-stroke">0</text><text x="195.45" y="11.4" text-anchor="middle" font-family="Liberation Serif, serif" font-size="72">/</text></g>
</svg>
</body></html>
